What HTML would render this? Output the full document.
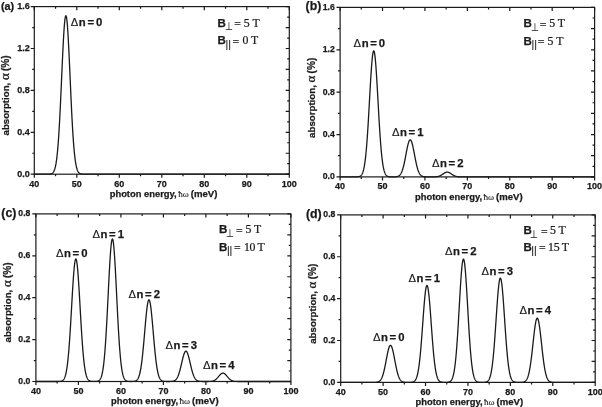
<!DOCTYPE html>
<html><head><meta charset="utf-8"><title>absorption</title>
<style>html,body{margin:0;padding:0;background:#fff}svg{display:block}</style>
</head><body>
<svg width="602" height="407" viewBox="0 0 602 407">
<rect width="602" height="407" fill="#fff"/>
<g stroke="#1a1a1a" stroke-width="1.2" fill="none">
<rect x="34.30" y="6.60" width="255.00" height="167.60"/>
<path d="M34.30 174.20v3.6 M34.30 6.60v3.6 M55.55 174.20v2.1 M55.55 6.60v2.1 M76.80 174.20v3.6 M76.80 6.60v3.6 M98.05 174.20v2.1 M98.05 6.60v2.1 M119.30 174.20v3.6 M119.30 6.60v3.6 M140.55 174.20v2.1 M140.55 6.60v2.1 M161.80 174.20v3.6 M161.80 6.60v3.6 M183.05 174.20v2.1 M183.05 6.60v2.1 M204.30 174.20v3.6 M204.30 6.60v3.6 M225.55 174.20v2.1 M225.55 6.60v2.1 M246.80 174.20v3.6 M246.80 6.60v3.6 M268.05 174.20v2.1 M268.05 6.60v2.1 M289.30 174.20v3.6 M289.30 6.60v3.6 M34.30 174.20h-3.6 M34.30 153.25h-2.1 M34.30 132.30h-3.6 M34.30 111.35h-2.1 M34.30 90.40h-3.6 M34.30 69.45h-2.1 M34.30 48.50h-3.6 M34.30 27.55h-2.1 M34.30 6.60h-3.6 M289.30 174.20h-3.6 M289.30 163.72h-2.1 M289.30 153.25h-3.6 M289.30 142.77h-2.1 M289.30 132.30h-3.6 M289.30 121.82h-2.1 M289.30 111.35h-3.6 M289.30 100.87h-2.1 M289.30 90.40h-3.6 M289.30 79.92h-2.1 M289.30 69.45h-3.6 M289.30 58.97h-2.1 M289.30 48.50h-3.6 M289.30 38.03h-2.1 M289.30 27.55h-3.6 M289.30 17.07h-2.1 M289.30 6.60h-3.6"/>
<polyline points="34.30,174.20 34.51,174.20 34.73,174.20 34.94,174.20 35.15,174.20 35.36,174.20 35.57,174.20 35.79,174.20 36.00,174.20 36.21,174.20 36.42,174.20 36.64,174.20 36.85,174.20 37.06,174.20 37.28,174.20 37.49,174.20 37.70,174.20 37.91,174.20 38.12,174.20 38.34,174.20 38.55,174.20 38.76,174.20 38.98,174.20 39.19,174.20 39.40,174.20 39.61,174.20 39.82,174.20 40.04,174.20 40.25,174.20 40.46,174.20 40.67,174.20 40.89,174.20 41.10,174.20 41.31,174.20 41.53,174.20 41.74,174.20 41.95,174.20 42.16,174.20 42.37,174.20 42.59,174.20 42.80,174.20 43.01,174.20 43.23,174.20 43.44,174.20 43.65,174.20 43.86,174.20 44.07,174.20 44.29,174.20 44.50,174.20 44.71,174.20 44.92,174.20 45.14,174.20 45.35,174.20 45.56,174.20 45.78,174.20 45.99,174.20 46.20,174.20 46.41,174.20 46.62,174.19 46.84,174.19 47.05,174.19 47.26,174.19 47.48,174.19 47.69,174.18 47.90,174.18 48.11,174.17 48.32,174.17 48.54,174.16 48.75,174.15 48.96,174.14 49.17,174.13 49.39,174.11 49.60,174.10 49.81,174.07 50.03,174.05 50.24,174.02 50.45,173.98 50.66,173.94 50.87,173.89 51.09,173.83 51.30,173.76 51.51,173.68 51.73,173.58 51.94,173.47 52.15,173.34 52.36,173.19 52.57,173.02 52.79,172.82 53.00,172.59 53.21,172.33 53.42,172.03 53.64,171.69 53.85,171.31 54.06,170.87 54.28,170.38 54.49,169.83 54.70,169.21 54.91,168.52 55.12,167.74 55.34,166.88 55.55,165.93 55.76,164.87 55.98,163.70 56.19,162.42 56.40,161.01 56.61,159.48 56.82,157.80 57.04,155.98 57.25,154.01 57.46,151.88 57.67,149.59 57.89,147.13 58.10,144.50 58.31,141.69 58.53,138.71 58.74,135.55 58.95,132.22 59.16,128.71 59.37,125.03 59.59,121.19 59.80,117.19 60.01,113.04 60.23,108.75 60.44,104.34 60.65,99.82 60.86,95.20 61.07,90.50 61.29,85.75 61.50,80.96 61.71,76.15 61.92,71.36 62.14,66.59 62.35,61.89 62.56,57.28 62.78,52.78 62.99,48.43 63.20,44.24 63.41,40.25 63.62,36.48 63.84,32.96 64.05,29.71 64.26,26.75 64.47,24.11 64.69,21.81 64.90,19.85 65.11,18.26 65.32,17.05 65.54,16.22 65.75,15.78 65.96,15.74 66.17,16.10 66.39,16.85 66.60,17.99 66.81,19.50 67.03,21.39 67.24,23.62 67.45,26.20 67.66,29.09 67.88,32.29 68.09,35.76 68.30,39.48 68.51,43.43 68.72,47.58 68.94,51.90 69.15,56.37 69.36,60.96 69.57,65.65 69.79,70.40 70.00,75.19 70.21,80.00 70.42,84.79 70.64,89.55 70.85,94.26 71.06,98.90 71.28,103.45 71.49,107.88 71.70,112.19 71.91,116.37 72.12,120.40 72.34,124.28 72.55,127.99 72.76,131.53 72.97,134.90 73.19,138.09 73.40,141.11 73.61,143.95 73.82,146.62 74.04,149.11 74.25,151.44 74.46,153.60 74.67,155.60 74.89,157.45 75.10,159.15 75.31,160.72 75.53,162.15 75.74,163.45 75.95,164.64 76.16,165.72 76.38,166.70 76.59,167.58 76.80,168.37 77.01,169.08 77.22,169.71 77.44,170.28 77.65,170.78 77.86,171.23 78.07,171.62 78.29,171.97 78.50,172.27 78.71,172.54 78.92,172.78 79.14,172.98 79.35,173.16 79.56,173.31 79.78,173.44 79.99,173.56 80.20,173.66 80.41,173.74 80.62,173.82 80.84,173.88 81.05,173.93 81.26,173.97 81.47,174.01 81.69,174.04 81.90,174.07 82.11,174.09 82.32,174.11 82.54,174.13 82.75,174.14 82.96,174.15 83.17,174.16 83.39,174.17 83.60,174.17 83.81,174.18 84.03,174.18 84.24,174.19 84.45,174.19 84.66,174.19 84.88,174.19 85.09,174.19 85.30,174.20 85.51,174.20 85.72,174.20 85.94,174.20 86.15,174.20 86.36,174.20 86.57,174.20 86.79,174.20 87.00,174.20 87.21,174.20 87.42,174.20 87.64,174.20 87.85,174.20 88.06,174.20 88.28,174.20 88.49,174.20 88.70,174.20 88.91,174.20 89.12,174.20 89.34,174.20 89.55,174.20 89.76,174.20 89.97,174.20 90.19,174.20 90.40,174.20 90.61,174.20 90.82,174.20 91.04,174.20 91.25,174.20 91.46,174.20 91.67,174.20 91.89,174.20 92.10,174.20 92.31,174.20 92.53,174.20 92.74,174.20 92.95,174.20 93.16,174.20 93.38,174.20 93.59,174.20 93.80,174.20 94.01,174.20 94.22,174.20 94.44,174.20 94.65,174.20 94.86,174.20 95.07,174.20 95.29,174.20 95.50,174.20 95.71,174.20 95.92,174.20 96.14,174.20 96.35,174.20 96.56,174.20 96.78,174.20 96.99,174.20 97.20,174.20 97.41,174.20 97.62,174.20 97.84,174.20 98.05,174.20 98.26,174.20 98.48,174.20 98.69,174.20 98.90,174.20 99.11,174.20 99.32,174.20 99.54,174.20 99.75,174.20 99.96,174.20 100.17,174.20 100.39,174.20 100.60,174.20 100.81,174.20 101.03,174.20 101.24,174.20 101.45,174.20 101.66,174.20 101.87,174.20 102.09,174.20 102.30,174.20 102.51,174.20 102.73,174.20 102.94,174.20 103.15,174.20 103.36,174.20 103.57,174.20 103.79,174.20 104.00,174.20 104.21,174.20 104.42,174.20 104.64,174.20 104.85,174.20 105.06,174.20 105.28,174.20 105.49,174.20 105.70,174.20 105.91,174.20 106.12,174.20 106.34,174.20 106.55,174.20 106.76,174.20 106.98,174.20 107.19,174.20 107.40,174.20 107.61,174.20 107.82,174.20 108.04,174.20 108.25,174.20 108.46,174.20 108.67,174.20 108.89,174.20 109.10,174.20 109.31,174.20 109.53,174.20 109.74,174.20 109.95,174.20 110.16,174.20 110.37,174.20 110.59,174.20 110.80,174.20 111.01,174.20 111.23,174.20 111.44,174.20 111.65,174.20 111.86,174.20 112.07,174.20 112.29,174.20 112.50,174.20 112.71,174.20 112.92,174.20 113.14,174.20 113.35,174.20 113.56,174.20 113.78,174.20 113.99,174.20 114.20,174.20 114.41,174.20 114.62,174.20 114.84,174.20 115.05,174.20 115.26,174.20 115.48,174.20 115.69,174.20 115.90,174.20 116.11,174.20 116.32,174.20 116.54,174.20 116.75,174.20 116.96,174.20 117.17,174.20 117.39,174.20 117.60,174.20 117.81,174.20 118.03,174.20 118.24,174.20 118.45,174.20 118.66,174.20 118.87,174.20 119.09,174.20 119.30,174.20 119.51,174.20 119.73,174.20 119.94,174.20 120.15,174.20 120.36,174.20 120.57,174.20 120.79,174.20 121.00,174.20 121.21,174.20 121.42,174.20 121.64,174.20 121.85,174.20 122.06,174.20 122.28,174.20 122.49,174.20 122.70,174.20 122.91,174.20 123.12,174.20 123.34,174.20 123.55,174.20 123.76,174.20 123.98,174.20 124.19,174.20 124.40,174.20 124.61,174.20 124.82,174.20 125.04,174.20 125.25,174.20 125.46,174.20 125.67,174.20 125.89,174.20 126.10,174.20 126.31,174.20 126.53,174.20 126.74,174.20 126.95,174.20 127.16,174.20 127.37,174.20 127.59,174.20 127.80,174.20 128.01,174.20 128.23,174.20 128.44,174.20 128.65,174.20 128.86,174.20 129.07,174.20 129.29,174.20 129.50,174.20 129.71,174.20 129.93,174.20 130.14,174.20 130.35,174.20 130.56,174.20 130.78,174.20 130.99,174.20 131.20,174.20 131.41,174.20 131.62,174.20 131.84,174.20 132.05,174.20 132.26,174.20 132.48,174.20 132.69,174.20 132.90,174.20 133.11,174.20 133.32,174.20 133.54,174.20 133.75,174.20 133.96,174.20 134.18,174.20 134.39,174.20 134.60,174.20 134.81,174.20 135.03,174.20 135.24,174.20 135.45,174.20 135.66,174.20 135.88,174.20 136.09,174.20 136.30,174.20 136.51,174.20 136.72,174.20 136.94,174.20 137.15,174.20 137.36,174.20 137.57,174.20 137.79,174.20 138.00,174.20 138.21,174.20 138.43,174.20 138.64,174.20 138.85,174.20 139.06,174.20 139.28,174.20 139.49,174.20 139.70,174.20 139.91,174.20 140.12,174.20 140.34,174.20 140.55,174.20 140.76,174.20 140.97,174.20 141.19,174.20 141.40,174.20 141.61,174.20 141.82,174.20 142.04,174.20 142.25,174.20 142.46,174.20 142.68,174.20 142.89,174.20 143.10,174.20 143.31,174.20 143.53,174.20 143.74,174.20 143.95,174.20 144.16,174.20 144.38,174.20 144.59,174.20 144.80,174.20 145.01,174.20 145.22,174.20 145.44,174.20 145.65,174.20 145.86,174.20 146.07,174.20 146.29,174.20 146.50,174.20 146.71,174.20 146.93,174.20 147.14,174.20 147.35,174.20 147.56,174.20 147.78,174.20 147.99,174.20 148.20,174.20 148.41,174.20 148.62,174.20 148.84,174.20 149.05,174.20 149.26,174.20 149.47,174.20 149.69,174.20 149.90,174.20 150.11,174.20 150.32,174.20 150.54,174.20 150.75,174.20 150.96,174.20 151.18,174.20 151.39,174.20 151.60,174.20 151.81,174.20 152.03,174.20 152.24,174.20 152.45,174.20 152.66,174.20 152.88,174.20 153.09,174.20 153.30,174.20 153.51,174.20 153.72,174.20 153.94,174.20 154.15,174.20 154.36,174.20 154.57,174.20 154.79,174.20 155.00,174.20 155.21,174.20 155.43,174.20 155.64,174.20 155.85,174.20 156.06,174.20 156.28,174.20 156.49,174.20 156.70,174.20 156.91,174.20 157.12,174.20 157.34,174.20 157.55,174.20 157.76,174.20 157.97,174.20 158.19,174.20 158.40,174.20 158.61,174.20 158.82,174.20 159.04,174.20 159.25,174.20 159.46,174.20 159.68,174.20 159.89,174.20 160.10,174.20 160.31,174.20 160.53,174.20 160.74,174.20 160.95,174.20 161.16,174.20 161.38,174.20 161.59,174.20 161.80,174.20 162.01,174.20 162.22,174.20 162.44,174.20 162.65,174.20 162.86,174.20 163.07,174.20 163.29,174.20 163.50,174.20 163.71,174.20 163.93,174.20 164.14,174.20 164.35,174.20 164.56,174.20 164.78,174.20 164.99,174.20 165.20,174.20 165.41,174.20 165.62,174.20 165.84,174.20 166.05,174.20 166.26,174.20 166.47,174.20 166.69,174.20 166.90,174.20 167.11,174.20 167.32,174.20 167.54,174.20 167.75,174.20 167.96,174.20 168.18,174.20 168.39,174.20 168.60,174.20 168.81,174.20 169.03,174.20 169.24,174.20 169.45,174.20 169.66,174.20 169.88,174.20 170.09,174.20 170.30,174.20 170.51,174.20 170.72,174.20 170.94,174.20 171.15,174.20 171.36,174.20 171.57,174.20 171.79,174.20 172.00,174.20 172.21,174.20 172.43,174.20 172.64,174.20 172.85,174.20 173.06,174.20 173.28,174.20 173.49,174.20 173.70,174.20 173.91,174.20 174.12,174.20 174.34,174.20 174.55,174.20 174.76,174.20 174.97,174.20 175.19,174.20 175.40,174.20 175.61,174.20 175.82,174.20 176.04,174.20 176.25,174.20 176.46,174.20 176.68,174.20 176.89,174.20 177.10,174.20 177.31,174.20 177.53,174.20 177.74,174.20 177.95,174.20 178.16,174.20 178.38,174.20 178.59,174.20 178.80,174.20 179.01,174.20 179.22,174.20 179.44,174.20 179.65,174.20 179.86,174.20 180.07,174.20 180.29,174.20 180.50,174.20 180.71,174.20 180.93,174.20 181.14,174.20 181.35,174.20 181.56,174.20 181.78,174.20 181.99,174.20 182.20,174.20 182.41,174.20 182.62,174.20 182.84,174.20 183.05,174.20 183.26,174.20 183.47,174.20 183.69,174.20 183.90,174.20 184.11,174.20 184.32,174.20 184.54,174.20 184.75,174.20 184.96,174.20 185.18,174.20 185.39,174.20 185.60,174.20 185.81,174.20 186.03,174.20 186.24,174.20 186.45,174.20 186.66,174.20 186.88,174.20 187.09,174.20 187.30,174.20 187.51,174.20 187.72,174.20 187.94,174.20 188.15,174.20 188.36,174.20 188.57,174.20 188.79,174.20 189.00,174.20 189.21,174.20 189.43,174.20 189.64,174.20 189.85,174.20 190.06,174.20 190.28,174.20 190.49,174.20 190.70,174.20 190.91,174.20 191.12,174.20 191.34,174.20 191.55,174.20 191.76,174.20 191.97,174.20 192.19,174.20 192.40,174.20 192.61,174.20 192.82,174.20 193.04,174.20 193.25,174.20 193.46,174.20 193.68,174.20 193.89,174.20 194.10,174.20 194.31,174.20 194.53,174.20 194.74,174.20 194.95,174.20 195.16,174.20 195.38,174.20 195.59,174.20 195.80,174.20 196.01,174.20 196.22,174.20 196.44,174.20 196.65,174.20 196.86,174.20 197.07,174.20 197.29,174.20 197.50,174.20 197.71,174.20 197.93,174.20 198.14,174.20 198.35,174.20 198.56,174.20 198.78,174.20 198.99,174.20 199.20,174.20 199.41,174.20 199.62,174.20 199.84,174.20 200.05,174.20 200.26,174.20 200.47,174.20 200.69,174.20 200.90,174.20 201.11,174.20 201.32,174.20 201.54,174.20 201.75,174.20 201.96,174.20 202.18,174.20 202.39,174.20 202.60,174.20 202.81,174.20 203.03,174.20 203.24,174.20 203.45,174.20 203.66,174.20 203.88,174.20 204.09,174.20 204.30,174.20 204.51,174.20 204.72,174.20 204.94,174.20 205.15,174.20 205.36,174.20 205.57,174.20 205.79,174.20 206.00,174.20 206.21,174.20 206.43,174.20 206.64,174.20 206.85,174.20 207.06,174.20 207.28,174.20 207.49,174.20 207.70,174.20 207.91,174.20 208.12,174.20 208.34,174.20 208.55,174.20 208.76,174.20 208.97,174.20 209.19,174.20 209.40,174.20 209.61,174.20 209.82,174.20 210.04,174.20 210.25,174.20 210.46,174.20 210.68,174.20 210.89,174.20 211.10,174.20 211.31,174.20 211.53,174.20 211.74,174.20 211.95,174.20 212.16,174.20 212.38,174.20 212.59,174.20 212.80,174.20 213.01,174.20 213.22,174.20 213.44,174.20 213.65,174.20 213.86,174.20 214.07,174.20 214.29,174.20 214.50,174.20 214.71,174.20 214.93,174.20 215.14,174.20 215.35,174.20 215.56,174.20 215.78,174.20 215.99,174.20 216.20,174.20 216.41,174.20 216.62,174.20 216.84,174.20 217.05,174.20 217.26,174.20 217.47,174.20 217.69,174.20 217.90,174.20 218.11,174.20 218.32,174.20 218.54,174.20 218.75,174.20 218.96,174.20 219.18,174.20 219.39,174.20 219.60,174.20 219.81,174.20 220.03,174.20 220.24,174.20 220.45,174.20 220.66,174.20 220.88,174.20 221.09,174.20 221.30,174.20 221.51,174.20 221.72,174.20 221.94,174.20 222.15,174.20 222.36,174.20 222.57,174.20 222.79,174.20 223.00,174.20 223.21,174.20 223.43,174.20 223.64,174.20 223.85,174.20 224.06,174.20 224.28,174.20 224.49,174.20 224.70,174.20 224.91,174.20 225.12,174.20 225.34,174.20 225.55,174.20 225.76,174.20 225.97,174.20 226.19,174.20 226.40,174.20 226.61,174.20 226.82,174.20 227.04,174.20 227.25,174.20 227.46,174.20 227.68,174.20 227.89,174.20 228.10,174.20 228.31,174.20 228.53,174.20 228.74,174.20 228.95,174.20 229.16,174.20 229.38,174.20 229.59,174.20 229.80,174.20 230.01,174.20 230.22,174.20 230.44,174.20 230.65,174.20 230.86,174.20 231.07,174.20 231.29,174.20 231.50,174.20 231.71,174.20 231.93,174.20 232.14,174.20 232.35,174.20 232.56,174.20 232.78,174.20 232.99,174.20 233.20,174.20 233.41,174.20 233.62,174.20 233.84,174.20 234.05,174.20 234.26,174.20 234.47,174.20 234.69,174.20 234.90,174.20 235.11,174.20 235.32,174.20 235.54,174.20 235.75,174.20 235.96,174.20 236.18,174.20 236.39,174.20 236.60,174.20 236.81,174.20 237.03,174.20 237.24,174.20 237.45,174.20 237.66,174.20 237.88,174.20 238.09,174.20 238.30,174.20 238.51,174.20 238.72,174.20 238.94,174.20 239.15,174.20 239.36,174.20 239.57,174.20 239.79,174.20 240.00,174.20 240.21,174.20 240.43,174.20 240.64,174.20 240.85,174.20 241.06,174.20 241.28,174.20 241.49,174.20 241.70,174.20 241.91,174.20 242.12,174.20 242.34,174.20 242.55,174.20 242.76,174.20 242.97,174.20 243.19,174.20 243.40,174.20 243.61,174.20 243.82,174.20 244.04,174.20 244.25,174.20 244.46,174.20 244.68,174.20 244.89,174.20 245.10,174.20 245.31,174.20 245.53,174.20 245.74,174.20 245.95,174.20 246.16,174.20 246.38,174.20 246.59,174.20 246.80,174.20 247.01,174.20 247.22,174.20 247.44,174.20 247.65,174.20 247.86,174.20 248.07,174.20 248.29,174.20 248.50,174.20 248.71,174.20 248.93,174.20 249.14,174.20 249.35,174.20 249.56,174.20 249.78,174.20 249.99,174.20 250.20,174.20 250.41,174.20 250.62,174.20 250.84,174.20 251.05,174.20 251.26,174.20 251.47,174.20 251.69,174.20 251.90,174.20 252.11,174.20 252.32,174.20 252.54,174.20 252.75,174.20 252.96,174.20 253.18,174.20 253.39,174.20 253.60,174.20 253.81,174.20 254.03,174.20 254.24,174.20 254.45,174.20 254.66,174.20 254.88,174.20 255.09,174.20 255.30,174.20 255.51,174.20 255.72,174.20 255.94,174.20 256.15,174.20 256.36,174.20 256.57,174.20 256.79,174.20 257.00,174.20 257.21,174.20 257.43,174.20 257.64,174.20 257.85,174.20 258.06,174.20 258.28,174.20 258.49,174.20 258.70,174.20 258.91,174.20 259.12,174.20 259.34,174.20 259.55,174.20 259.76,174.20 259.97,174.20 260.19,174.20 260.40,174.20 260.61,174.20 260.82,174.20 261.04,174.20 261.25,174.20 261.46,174.20 261.68,174.20 261.89,174.20 262.10,174.20 262.31,174.20 262.53,174.20 262.74,174.20 262.95,174.20 263.16,174.20 263.38,174.20 263.59,174.20 263.80,174.20 264.01,174.20 264.22,174.20 264.44,174.20 264.65,174.20 264.86,174.20 265.07,174.20 265.29,174.20 265.50,174.20 265.71,174.20 265.93,174.20 266.14,174.20 266.35,174.20 266.56,174.20 266.78,174.20 266.99,174.20 267.20,174.20 267.41,174.20 267.62,174.20 267.84,174.20 268.05,174.20 268.26,174.20 268.47,174.20 268.69,174.20 268.90,174.20 269.11,174.20 269.32,174.20 269.54,174.20 269.75,174.20 269.96,174.20 270.18,174.20 270.39,174.20 270.60,174.20 270.81,174.20 271.03,174.20 271.24,174.20 271.45,174.20 271.66,174.20 271.88,174.20 272.09,174.20 272.30,174.20 272.51,174.20 272.72,174.20 272.94,174.20 273.15,174.20 273.36,174.20 273.57,174.20 273.79,174.20 274.00,174.20 274.21,174.20 274.43,174.20 274.64,174.20 274.85,174.20 275.06,174.20 275.28,174.20 275.49,174.20 275.70,174.20 275.91,174.20 276.12,174.20 276.34,174.20 276.55,174.20 276.76,174.20 276.97,174.20 277.19,174.20 277.40,174.20 277.61,174.20 277.82,174.20 278.04,174.20 278.25,174.20 278.46,174.20 278.68,174.20 278.89,174.20 279.10,174.20 279.31,174.20 279.53,174.20 279.74,174.20 279.95,174.20 280.16,174.20 280.38,174.20 280.59,174.20 280.80,174.20 281.01,174.20 281.22,174.20 281.44,174.20 281.65,174.20 281.86,174.20 282.07,174.20 282.29,174.20 282.50,174.20 282.71,174.20 282.93,174.20 283.14,174.20 283.35,174.20 283.56,174.20 283.78,174.20 283.99,174.20 284.20,174.20 284.41,174.20 284.62,174.20 284.84,174.20 285.05,174.20 285.26,174.20 285.47,174.20 285.69,174.20 285.90,174.20 286.11,174.20 286.32,174.20 286.54,174.20 286.75,174.20 286.96,174.20 287.18,174.20 287.39,174.20 287.60,174.20 287.81,174.20 288.03,174.20 288.24,174.20 288.45,174.20 288.66,174.20 288.88,174.20 289.09,174.20 289.30,174.20" stroke-width="1.3" stroke-linejoin="round"/>
</g>
<g font-family="Liberation Sans, Arial, sans-serif" font-weight="bold" fill="#1a1a1a" stroke="#1a1a1a" stroke-width="0.25">
<g font-size="9.0" text-anchor="middle">
<text x="34.30" y="187.40">40</text>
<text x="76.80" y="187.40">50</text>
<text x="119.30" y="187.40">60</text>
<text x="161.80" y="187.40">70</text>
<text x="204.30" y="187.40">80</text>
<text x="246.80" y="187.40">90</text>
<text x="289.30" y="187.40">100</text>
</g>
<g font-size="9.0" text-anchor="end">
<text x="29.70" y="177.00">0.0</text>
<text x="29.70" y="135.10">0.4</text>
<text x="29.70" y="93.20">0.8</text>
<text x="29.70" y="51.30">1.2</text>
<text x="29.70" y="9.40">1.6</text>
</g>
<text x="1" y="9.8" font-size="10.8">(a)</text>
<g transform="translate(9.2,135.5) rotate(-90)">
<text x="0" y="0" font-size="9.7">absorption,</text>
<text x="55.4" y="0" font-size="13.0" font-family="Liberation Serif, serif" font-weight="normal" stroke-width="0.3">α</text>
<text x="64.5" y="-0.4" font-size="10.15">(%)</text>
</g>
<text x="109.7" y="197.3" font-size="9.4">photon energy,</text>
<text x="178.2" y="197.3" font-size="9.2" font-family="Liberation Serif, serif" font-weight="normal" stroke-width="0.1" fill="#222">ħω</text>
<text x="190.7" y="197.3" font-size="9.6">(meV)</text>
<text y="26.2" font-size="11.3"><tspan x="70.80" font-weight="normal" stroke-width="0.15">Δ</tspan><tspan x="78.85 87.40 96.00">n=0</tspan></text>
<text x="217.6" y="26.8" font-size="11.5">B</text>
<text x="224.60" y="30.30" font-size="10.8" textLength="8.2" lengthAdjust="spacingAndGlyphs" font-weight="normal" stroke-width="0.1">⊥</text>
<text x="234.30" y="28.30" font-family="Liberation Serif, serif" font-weight="normal" font-size="11.8" stroke-width="0.22">=</text>
<text x="243.80" y="26.8" font-family="Liberation Serif, serif" font-weight="normal" font-size="11.8" stroke-width="0.22">5 T</text>
<text x="217.6" y="44.3" font-size="11.5">B</text>
<text x="225.50" y="47.60" font-size="10.5" font-weight="normal" stroke-width="0.1">||</text>
<text x="232.50" y="45.80" font-family="Liberation Serif, serif" font-weight="normal" font-size="11.8" stroke-width="0.22">=</text>
<text x="242.40" y="44.3" font-family="Liberation Serif, serif" font-weight="normal" font-size="11.8" stroke-width="0.22">0 T</text>
</g>
<g stroke="#1a1a1a" stroke-width="1.2" fill="none">
<rect x="340.10" y="7.40" width="254.50" height="169.50"/>
<path d="M340.10 176.90v3.6 M340.10 7.40v3.6 M361.31 176.90v2.1 M361.31 7.40v2.1 M382.52 176.90v3.6 M382.52 7.40v3.6 M403.73 176.90v2.1 M403.73 7.40v2.1 M424.93 176.90v3.6 M424.93 7.40v3.6 M446.14 176.90v2.1 M446.14 7.40v2.1 M467.35 176.90v3.6 M467.35 7.40v3.6 M488.56 176.90v2.1 M488.56 7.40v2.1 M509.77 176.90v3.6 M509.77 7.40v3.6 M530.98 176.90v2.1 M530.98 7.40v2.1 M552.18 176.90v3.6 M552.18 7.40v3.6 M573.39 176.90v2.1 M573.39 7.40v2.1 M594.60 176.90v3.6 M594.60 7.40v3.6 M340.10 176.90h-3.6 M340.10 155.71h-2.1 M340.10 134.53h-3.6 M340.10 113.34h-2.1 M340.10 92.15h-3.6 M340.10 70.96h-2.1 M340.10 49.78h-3.6 M340.10 28.59h-2.1 M340.10 7.40h-3.6 M594.60 176.90h-3.6 M594.60 166.31h-2.1 M594.60 155.71h-3.6 M594.60 145.12h-2.1 M594.60 134.53h-3.6 M594.60 123.93h-2.1 M594.60 113.34h-3.6 M594.60 102.74h-2.1 M594.60 92.15h-3.6 M594.60 81.56h-2.1 M594.60 70.96h-3.6 M594.60 60.37h-2.1 M594.60 49.78h-3.6 M594.60 39.18h-2.1 M594.60 28.59h-3.6 M594.60 17.99h-2.1 M594.60 7.40h-3.6"/>
<polyline points="340.10,176.90 340.31,176.90 340.52,176.90 340.74,176.90 340.95,176.90 341.16,176.90 341.37,176.90 341.58,176.90 341.80,176.90 342.01,176.90 342.22,176.90 342.43,176.90 342.65,176.90 342.86,176.90 343.07,176.90 343.28,176.90 343.49,176.90 343.71,176.90 343.92,176.90 344.13,176.90 344.34,176.90 344.55,176.90 344.77,176.90 344.98,176.90 345.19,176.90 345.40,176.90 345.61,176.90 345.83,176.90 346.04,176.90 346.25,176.90 346.46,176.90 346.67,176.90 346.89,176.90 347.10,176.90 347.31,176.90 347.52,176.90 347.74,176.90 347.95,176.90 348.16,176.90 348.37,176.90 348.58,176.90 348.80,176.90 349.01,176.90 349.22,176.90 349.43,176.90 349.64,176.90 349.86,176.90 350.07,176.90 350.28,176.90 350.49,176.90 350.70,176.90 350.92,176.90 351.13,176.90 351.34,176.90 351.55,176.90 351.76,176.90 351.98,176.90 352.19,176.90 352.40,176.90 352.61,176.90 352.83,176.90 353.04,176.90 353.25,176.90 353.46,176.90 353.67,176.90 353.89,176.90 354.10,176.90 354.31,176.90 354.52,176.90 354.73,176.89 354.95,176.89 355.16,176.89 355.37,176.89 355.58,176.89 355.79,176.88 356.01,176.88 356.22,176.88 356.43,176.87 356.64,176.86 356.85,176.85 357.07,176.84 357.28,176.83 357.49,176.82 357.70,176.80 357.92,176.78 358.13,176.76 358.34,176.73 358.55,176.69 358.76,176.65 358.98,176.60 359.19,176.55 359.40,176.48 359.61,176.41 359.82,176.32 360.04,176.22 360.25,176.10 360.46,175.96 360.67,175.80 360.88,175.62 361.10,175.41 361.31,175.18 361.52,174.91 361.73,174.60 361.94,174.26 362.16,173.86 362.37,173.42 362.58,172.93 362.79,172.38 363.00,171.76 363.22,171.08 363.43,170.32 363.64,169.48 363.85,168.55 364.07,167.53 364.28,166.41 364.49,165.19 364.70,163.86 364.91,162.41 365.13,160.84 365.34,159.15 365.55,157.32 365.76,155.37 365.97,153.27 366.19,151.04 366.40,148.67 366.61,146.16 366.82,143.51 367.03,140.72 367.25,137.79 367.46,134.73 367.67,131.55 367.88,128.25 368.10,124.84 368.31,121.33 368.52,117.73 368.73,114.06 368.94,110.32 369.16,106.54 369.37,102.73 369.58,98.91 369.79,95.09 370.00,91.31 370.22,87.57 370.43,83.90 370.64,80.32 370.85,76.86 371.06,73.53 371.28,70.35 371.49,67.35 371.70,64.55 371.91,61.97 372.12,59.62 372.34,57.52 372.55,55.68 372.76,54.13 372.97,52.86 373.19,51.90 373.40,51.24 373.61,50.89 373.82,50.86 374.03,51.14 374.25,51.74 374.46,52.64 374.67,53.85 374.88,55.35 375.09,57.13 375.31,59.17 375.52,61.48 375.73,64.02 375.94,66.78 376.15,69.74 376.37,72.88 376.58,76.18 376.79,79.62 377.00,83.18 377.21,86.83 377.43,90.55 377.64,94.33 377.85,98.14 378.06,101.97 378.28,105.78 378.49,109.57 378.70,113.32 378.91,117.00 379.12,120.62 379.34,124.15 379.55,127.58 379.76,130.90 379.97,134.11 380.18,137.19 380.40,140.14 380.61,142.96 380.82,145.64 381.03,148.18 381.24,150.58 381.46,152.84 381.67,154.96 381.88,156.94 382.09,158.79 382.30,160.51 382.52,162.10 382.73,163.58 382.94,164.93 383.15,166.17 383.37,167.31 383.58,168.35 383.79,169.30 384.00,170.16 384.21,170.93 384.43,171.63 384.64,172.26 384.85,172.83 385.06,173.33 385.27,173.78 385.49,174.18 385.70,174.54 385.91,174.85 386.12,175.13 386.33,175.37 386.55,175.58 386.76,175.77 386.97,175.93 387.18,176.07 387.39,176.19 387.61,176.30 387.82,176.39 388.03,176.47 388.24,176.54 388.46,176.59 388.67,176.64 388.88,176.68 389.09,176.72 389.30,176.75 389.52,176.78 389.73,176.80 389.94,176.81 390.15,176.83 390.36,176.84 390.58,176.85 390.79,176.86 391.00,176.87 391.21,176.87 391.42,176.88 391.64,176.88 391.85,176.88 392.06,176.88 392.27,176.89 392.48,176.89 392.70,176.89 392.91,176.89 393.12,176.89 393.33,176.88 393.55,176.88 393.76,176.88 393.97,176.87 394.18,176.87 394.39,176.86 394.61,176.86 394.82,176.85 395.03,176.84 395.24,176.83 395.45,176.81 395.67,176.80 395.88,176.78 396.09,176.75 396.30,176.73 396.51,176.70 396.73,176.66 396.94,176.62 397.15,176.58 397.36,176.52 397.57,176.46 397.79,176.39 398.00,176.31 398.21,176.22 398.42,176.12 398.63,176.01 398.85,175.88 399.06,175.73 399.27,175.57 399.48,175.39 399.70,175.19 399.91,174.96 400.12,174.72 400.33,174.44 400.54,174.14 400.76,173.81 400.97,173.46 401.18,173.06 401.39,172.64 401.60,172.18 401.82,171.68 402.03,171.14 402.24,170.57 402.45,169.95 402.66,169.29 402.88,168.60 403.09,167.86 403.30,167.08 403.51,166.26 403.73,165.40 403.94,164.50 404.15,163.56 404.36,162.59 404.57,161.59 404.79,160.56 405.00,159.50 405.21,158.42 405.42,157.32 405.63,156.21 405.85,155.09 406.06,153.96 406.27,152.84 406.48,151.73 406.69,150.63 406.91,149.55 407.12,148.49 407.33,147.48 407.54,146.50 407.75,145.56 407.97,144.68 408.18,143.86 408.39,143.10 408.60,142.40 408.82,141.79 409.03,141.25 409.24,140.79 409.45,140.42 409.66,140.13 409.88,139.94 410.09,139.84 410.30,139.83 410.51,139.91 410.72,140.09 410.94,140.35 411.15,140.71 411.36,141.15 411.57,141.67 411.78,142.27 412.00,142.95 412.21,143.70 412.42,144.51 412.63,145.38 412.84,146.31 413.06,147.28 413.27,148.29 413.48,149.33 413.69,150.41 413.91,151.50 414.12,152.62 414.33,153.74 414.54,154.86 414.75,155.98 414.97,157.10 415.18,158.20 415.39,159.28 415.60,160.35 415.81,161.38 416.03,162.39 416.24,163.37 416.45,164.31 416.66,165.22 416.87,166.09 417.09,166.92 417.30,167.71 417.51,168.45 417.72,169.16 417.93,169.82 418.15,170.45 418.36,171.03 418.57,171.57 418.78,172.08 419.00,172.55 419.21,172.98 419.42,173.38 419.63,173.75 419.84,174.08 420.06,174.39 420.27,174.66 420.48,174.92 420.69,175.14 420.90,175.35 421.12,175.54 421.33,175.70 421.54,175.85 421.75,175.98 421.96,176.10 422.18,176.20 422.39,176.30 422.60,176.38 422.81,176.45 423.02,176.51 423.24,176.57 423.45,176.61 423.66,176.66 423.87,176.69 424.09,176.72 424.30,176.75 424.51,176.77 424.72,176.79 424.93,176.81 425.15,176.82 425.36,176.84 425.57,176.85 425.78,176.86 425.99,176.86 426.21,176.87 426.42,176.87 426.63,176.88 426.84,176.88 427.05,176.89 427.27,176.89 427.48,176.89 427.69,176.89 427.90,176.89 428.11,176.89 428.33,176.90 428.54,176.90 428.75,176.90 428.96,176.90 429.18,176.90 429.39,176.90 429.60,176.90 429.81,176.90 430.02,176.90 430.24,176.90 430.45,176.90 430.66,176.90 430.87,176.90 431.08,176.90 431.30,176.90 431.51,176.89 431.72,176.89 431.93,176.89 432.14,176.89 432.36,176.89 432.57,176.89 432.78,176.89 432.99,176.88 433.20,176.88 433.42,176.88 433.63,176.87 433.84,176.87 434.05,176.86 434.27,176.85 434.48,176.85 434.69,176.84 434.90,176.83 435.11,176.82 435.33,176.81 435.54,176.79 435.75,176.78 435.96,176.76 436.17,176.74 436.39,176.72 436.60,176.69 436.81,176.66 437.02,176.63 437.23,176.60 437.45,176.56 437.66,176.52 437.87,176.48 438.08,176.43 438.29,176.37 438.51,176.32 438.72,176.25 438.93,176.19 439.14,176.12 439.36,176.04 439.57,175.96 439.78,175.87 439.99,175.78 440.20,175.68 440.42,175.57 440.63,175.47 440.84,175.35 441.05,175.23 441.26,175.11 441.48,174.98 441.69,174.85 441.90,174.72 442.11,174.58 442.32,174.44 442.54,174.30 442.75,174.15 442.96,174.01 443.17,173.86 443.38,173.72 443.60,173.58 443.81,173.44 444.02,173.30 444.23,173.17 444.44,173.04 444.66,172.92 444.87,172.80 445.08,172.69 445.29,172.59 445.51,172.50 445.72,172.42 445.93,172.34 446.14,172.28 446.35,172.23 446.57,172.19 446.78,172.16 446.99,172.14 447.20,172.13 447.41,172.14 447.63,172.16 447.84,172.19 448.05,172.23 448.26,172.28 448.47,172.34 448.69,172.42 448.90,172.50 449.11,172.59 449.32,172.69 449.53,172.80 449.75,172.92 449.96,173.04 450.17,173.17 450.38,173.30 450.60,173.44 450.81,173.58 451.02,173.72 451.23,173.86 451.44,174.01 451.66,174.15 451.87,174.30 452.08,174.44 452.29,174.58 452.50,174.72 452.72,174.85 452.93,174.98 453.14,175.11 453.35,175.23 453.56,175.35 453.78,175.47 453.99,175.57 454.20,175.68 454.41,175.78 454.62,175.87 454.84,175.96 455.05,176.04 455.26,176.12 455.47,176.19 455.69,176.25 455.90,176.32 456.11,176.37 456.32,176.43 456.53,176.48 456.75,176.52 456.96,176.56 457.17,176.60 457.38,176.63 457.59,176.66 457.81,176.69 458.02,176.72 458.23,176.74 458.44,176.76 458.65,176.78 458.87,176.79 459.08,176.81 459.29,176.82 459.50,176.83 459.72,176.84 459.93,176.85 460.14,176.85 460.35,176.86 460.56,176.87 460.78,176.87 460.99,176.88 461.20,176.88 461.41,176.88 461.62,176.89 461.84,176.89 462.05,176.89 462.26,176.89 462.47,176.89 462.68,176.89 462.90,176.89 463.11,176.90 463.32,176.90 463.53,176.90 463.74,176.90 463.96,176.90 464.17,176.90 464.38,176.90 464.59,176.90 464.81,176.90 465.02,176.90 465.23,176.90 465.44,176.90 465.65,176.90 465.87,176.90 466.08,176.90 466.29,176.90 466.50,176.90 466.71,176.90 466.93,176.90 467.14,176.90 467.35,176.90 467.56,176.90 467.77,176.90 467.99,176.90 468.20,176.90 468.41,176.90 468.62,176.90 468.83,176.90 469.05,176.90 469.26,176.90 469.47,176.90 469.68,176.90 469.89,176.90 470.11,176.90 470.32,176.90 470.53,176.90 470.74,176.90 470.96,176.90 471.17,176.90 471.38,176.90 471.59,176.90 471.80,176.90 472.02,176.90 472.23,176.90 472.44,176.90 472.65,176.90 472.86,176.90 473.08,176.90 473.29,176.90 473.50,176.90 473.71,176.90 473.92,176.90 474.14,176.90 474.35,176.90 474.56,176.90 474.77,176.90 474.99,176.90 475.20,176.90 475.41,176.90 475.62,176.90 475.83,176.90 476.05,176.90 476.26,176.90 476.47,176.90 476.68,176.90 476.89,176.90 477.11,176.90 477.32,176.90 477.53,176.90 477.74,176.90 477.95,176.90 478.17,176.90 478.38,176.90 478.59,176.90 478.80,176.90 479.01,176.90 479.23,176.90 479.44,176.90 479.65,176.90 479.86,176.90 480.08,176.90 480.29,176.90 480.50,176.90 480.71,176.90 480.92,176.90 481.14,176.90 481.35,176.90 481.56,176.90 481.77,176.90 481.98,176.90 482.20,176.90 482.41,176.90 482.62,176.90 482.83,176.90 483.04,176.90 483.26,176.90 483.47,176.90 483.68,176.90 483.89,176.90 484.10,176.90 484.32,176.90 484.53,176.90 484.74,176.90 484.95,176.90 485.17,176.90 485.38,176.90 485.59,176.90 485.80,176.90 486.01,176.90 486.23,176.90 486.44,176.90 486.65,176.90 486.86,176.90 487.07,176.90 487.29,176.90 487.50,176.90 487.71,176.90 487.92,176.90 488.13,176.90 488.35,176.90 488.56,176.90 488.77,176.90 488.98,176.90 489.19,176.90 489.41,176.90 489.62,176.90 489.83,176.90 490.04,176.90 490.25,176.90 490.47,176.90 490.68,176.90 490.89,176.90 491.10,176.90 491.32,176.90 491.53,176.90 491.74,176.90 491.95,176.90 492.16,176.90 492.38,176.90 492.59,176.90 492.80,176.90 493.01,176.90 493.22,176.90 493.44,176.90 493.65,176.90 493.86,176.90 494.07,176.90 494.28,176.90 494.50,176.90 494.71,176.90 494.92,176.90 495.13,176.90 495.34,176.90 495.56,176.90 495.77,176.90 495.98,176.90 496.19,176.90 496.41,176.90 496.62,176.90 496.83,176.90 497.04,176.90 497.25,176.90 497.47,176.90 497.68,176.90 497.89,176.90 498.10,176.90 498.31,176.90 498.53,176.90 498.74,176.90 498.95,176.90 499.16,176.90 499.37,176.90 499.59,176.90 499.80,176.90 500.01,176.90 500.22,176.90 500.44,176.90 500.65,176.90 500.86,176.90 501.07,176.90 501.28,176.90 501.50,176.90 501.71,176.90 501.92,176.90 502.13,176.90 502.34,176.90 502.56,176.90 502.77,176.90 502.98,176.90 503.19,176.90 503.40,176.90 503.62,176.90 503.83,176.90 504.04,176.90 504.25,176.90 504.46,176.90 504.68,176.90 504.89,176.90 505.10,176.90 505.31,176.90 505.52,176.90 505.74,176.90 505.95,176.90 506.16,176.90 506.37,176.90 506.59,176.90 506.80,176.90 507.01,176.90 507.22,176.90 507.43,176.90 507.65,176.90 507.86,176.90 508.07,176.90 508.28,176.90 508.49,176.90 508.71,176.90 508.92,176.90 509.13,176.90 509.34,176.90 509.55,176.90 509.77,176.90 509.98,176.90 510.19,176.90 510.40,176.90 510.62,176.90 510.83,176.90 511.04,176.90 511.25,176.90 511.46,176.90 511.68,176.90 511.89,176.90 512.10,176.90 512.31,176.90 512.52,176.90 512.74,176.90 512.95,176.90 513.16,176.90 513.37,176.90 513.58,176.90 513.80,176.90 514.01,176.90 514.22,176.90 514.43,176.90 514.64,176.90 514.86,176.90 515.07,176.90 515.28,176.90 515.49,176.90 515.71,176.90 515.92,176.90 516.13,176.90 516.34,176.90 516.55,176.90 516.77,176.90 516.98,176.90 517.19,176.90 517.40,176.90 517.61,176.90 517.83,176.90 518.04,176.90 518.25,176.90 518.46,176.90 518.67,176.90 518.89,176.90 519.10,176.90 519.31,176.90 519.52,176.90 519.73,176.90 519.95,176.90 520.16,176.90 520.37,176.90 520.58,176.90 520.79,176.90 521.01,176.90 521.22,176.90 521.43,176.90 521.64,176.90 521.86,176.90 522.07,176.90 522.28,176.90 522.49,176.90 522.70,176.90 522.92,176.90 523.13,176.90 523.34,176.90 523.55,176.90 523.76,176.90 523.98,176.90 524.19,176.90 524.40,176.90 524.61,176.90 524.82,176.90 525.04,176.90 525.25,176.90 525.46,176.90 525.67,176.90 525.88,176.90 526.10,176.90 526.31,176.90 526.52,176.90 526.73,176.90 526.95,176.90 527.16,176.90 527.37,176.90 527.58,176.90 527.79,176.90 528.01,176.90 528.22,176.90 528.43,176.90 528.64,176.90 528.85,176.90 529.07,176.90 529.28,176.90 529.49,176.90 529.70,176.90 529.91,176.90 530.13,176.90 530.34,176.90 530.55,176.90 530.76,176.90 530.98,176.90 531.19,176.90 531.40,176.90 531.61,176.90 531.82,176.90 532.04,176.90 532.25,176.90 532.46,176.90 532.67,176.90 532.88,176.90 533.10,176.90 533.31,176.90 533.52,176.90 533.73,176.90 533.94,176.90 534.16,176.90 534.37,176.90 534.58,176.90 534.79,176.90 535.00,176.90 535.22,176.90 535.43,176.90 535.64,176.90 535.85,176.90 536.07,176.90 536.28,176.90 536.49,176.90 536.70,176.90 536.91,176.90 537.13,176.90 537.34,176.90 537.55,176.90 537.76,176.90 537.97,176.90 538.19,176.90 538.40,176.90 538.61,176.90 538.82,176.90 539.03,176.90 539.25,176.90 539.46,176.90 539.67,176.90 539.88,176.90 540.09,176.90 540.31,176.90 540.52,176.90 540.73,176.90 540.94,176.90 541.15,176.90 541.37,176.90 541.58,176.90 541.79,176.90 542.00,176.90 542.22,176.90 542.43,176.90 542.64,176.90 542.85,176.90 543.06,176.90 543.28,176.90 543.49,176.90 543.70,176.90 543.91,176.90 544.12,176.90 544.34,176.90 544.55,176.90 544.76,176.90 544.97,176.90 545.18,176.90 545.40,176.90 545.61,176.90 545.82,176.90 546.03,176.90 546.25,176.90 546.46,176.90 546.67,176.90 546.88,176.90 547.09,176.90 547.31,176.90 547.52,176.90 547.73,176.90 547.94,176.90 548.15,176.90 548.37,176.90 548.58,176.90 548.79,176.90 549.00,176.90 549.21,176.90 549.43,176.90 549.64,176.90 549.85,176.90 550.06,176.90 550.27,176.90 550.49,176.90 550.70,176.90 550.91,176.90 551.12,176.90 551.34,176.90 551.55,176.90 551.76,176.90 551.97,176.90 552.18,176.90 552.40,176.90 552.61,176.90 552.82,176.90 553.03,176.90 553.24,176.90 553.46,176.90 553.67,176.90 553.88,176.90 554.09,176.90 554.30,176.90 554.52,176.90 554.73,176.90 554.94,176.90 555.15,176.90 555.36,176.90 555.58,176.90 555.79,176.90 556.00,176.90 556.21,176.90 556.42,176.90 556.64,176.90 556.85,176.90 557.06,176.90 557.27,176.90 557.49,176.90 557.70,176.90 557.91,176.90 558.12,176.90 558.33,176.90 558.55,176.90 558.76,176.90 558.97,176.90 559.18,176.90 559.39,176.90 559.61,176.90 559.82,176.90 560.03,176.90 560.24,176.90 560.45,176.90 560.67,176.90 560.88,176.90 561.09,176.90 561.30,176.90 561.51,176.90 561.73,176.90 561.94,176.90 562.15,176.90 562.36,176.90 562.58,176.90 562.79,176.90 563.00,176.90 563.21,176.90 563.42,176.90 563.64,176.90 563.85,176.90 564.06,176.90 564.27,176.90 564.48,176.90 564.70,176.90 564.91,176.90 565.12,176.90 565.33,176.90 565.54,176.90 565.76,176.90 565.97,176.90 566.18,176.90 566.39,176.90 566.61,176.90 566.82,176.90 567.03,176.90 567.24,176.90 567.45,176.90 567.67,176.90 567.88,176.90 568.09,176.90 568.30,176.90 568.51,176.90 568.73,176.90 568.94,176.90 569.15,176.90 569.36,176.90 569.57,176.90 569.79,176.90 570.00,176.90 570.21,176.90 570.42,176.90 570.63,176.90 570.85,176.90 571.06,176.90 571.27,176.90 571.48,176.90 571.69,176.90 571.91,176.90 572.12,176.90 572.33,176.90 572.54,176.90 572.76,176.90 572.97,176.90 573.18,176.90 573.39,176.90 573.60,176.90 573.82,176.90 574.03,176.90 574.24,176.90 574.45,176.90 574.66,176.90 574.88,176.90 575.09,176.90 575.30,176.90 575.51,176.90 575.72,176.90 575.94,176.90 576.15,176.90 576.36,176.90 576.57,176.90 576.78,176.90 577.00,176.90 577.21,176.90 577.42,176.90 577.63,176.90 577.85,176.90 578.06,176.90 578.27,176.90 578.48,176.90 578.69,176.90 578.91,176.90 579.12,176.90 579.33,176.90 579.54,176.90 579.75,176.90 579.97,176.90 580.18,176.90 580.39,176.90 580.60,176.90 580.81,176.90 581.03,176.90 581.24,176.90 581.45,176.90 581.66,176.90 581.88,176.90 582.09,176.90 582.30,176.90 582.51,176.90 582.72,176.90 582.94,176.90 583.15,176.90 583.36,176.90 583.57,176.90 583.78,176.90 584.00,176.90 584.21,176.90 584.42,176.90 584.63,176.90 584.84,176.90 585.06,176.90 585.27,176.90 585.48,176.90 585.69,176.90 585.90,176.90 586.12,176.90 586.33,176.90 586.54,176.90 586.75,176.90 586.97,176.90 587.18,176.90 587.39,176.90 587.60,176.90 587.81,176.90 588.03,176.90 588.24,176.90 588.45,176.90 588.66,176.90 588.87,176.90 589.09,176.90 589.30,176.90 589.51,176.90 589.72,176.90 589.93,176.90 590.15,176.90 590.36,176.90 590.57,176.90 590.78,176.90 590.99,176.90 591.21,176.90 591.42,176.90 591.63,176.90 591.84,176.90 592.06,176.90 592.27,176.90 592.48,176.90 592.69,176.90 592.90,176.90 593.12,176.90 593.33,176.90 593.54,176.90 593.75,176.90 593.96,176.90 594.18,176.90 594.39,176.90 594.60,176.90" stroke-width="1.3" stroke-linejoin="round"/>
</g>
<g font-family="Liberation Sans, Arial, sans-serif" font-weight="bold" fill="#1a1a1a" stroke="#1a1a1a" stroke-width="0.25">
<g font-size="9.0" text-anchor="middle">
<text x="340.10" y="189.40">40</text>
<text x="382.52" y="189.40">50</text>
<text x="424.93" y="189.40">60</text>
<text x="467.35" y="189.40">70</text>
<text x="509.77" y="189.40">80</text>
<text x="552.18" y="189.40">90</text>
<text x="594.60" y="189.40">100</text>
</g>
<g font-size="8.7" text-anchor="end">
<text x="334.80" y="179.30">0.0</text>
<text x="334.80" y="136.93">0.4</text>
<text x="334.80" y="94.55">0.8</text>
<text x="334.80" y="52.17">1.2</text>
<text x="334.80" y="9.80">1.6</text>
</g>
<text x="305.6" y="10.4" font-size="12.3">(b)</text>
<g transform="translate(315.2,137.9) rotate(-90)">
<text x="0" y="0" font-size="9.7">absorption,</text>
<text x="55.4" y="0" font-size="13.0" font-family="Liberation Serif, serif" font-weight="normal" stroke-width="0.3">α</text>
<text x="64.5" y="-0.4" font-size="10.15">(%)</text>
</g>
<text x="415" y="200" font-size="9.4">photon energy,</text>
<text x="483.5" y="200" font-size="9.2" font-family="Liberation Serif, serif" font-weight="normal" stroke-width="0.1" fill="#222">ħω</text>
<text x="496.0" y="200" font-size="9.6">(meV)</text>
<text y="46.7" font-size="11.3"><tspan x="353.60" font-weight="normal" stroke-width="0.15">Δ</tspan><tspan x="361.65 370.20 378.80">n=0</tspan></text>
<text y="135.9" font-size="11.3"><tspan x="392.00" font-weight="normal" stroke-width="0.15">Δ</tspan><tspan x="400.05 408.60 417.20">n=1</tspan></text>
<text y="167" font-size="11.3"><tspan x="432.00" font-weight="normal" stroke-width="0.15">Δ</tspan><tspan x="440.05 448.60 457.20">n=2</tspan></text>
<text x="523.6" y="27.0" font-size="11.5">B</text>
<text x="530.60" y="30.50" font-size="10.8" textLength="8.2" lengthAdjust="spacingAndGlyphs" font-weight="normal" stroke-width="0.1">⊥</text>
<text x="539.70" y="28.50" font-family="Liberation Serif, serif" font-weight="normal" font-size="11.8" stroke-width="0.22">=</text>
<text x="549.20" y="27.0" font-family="Liberation Serif, serif" font-weight="normal" font-size="11.8" stroke-width="0.22">5 T</text>
<text x="523.6" y="44.6" font-size="11.5">B</text>
<text x="531.50" y="47.90" font-size="10.5" font-weight="normal" stroke-width="0.1">||</text>
<text x="537.70" y="46.10" font-family="Liberation Serif, serif" font-weight="normal" font-size="11.8" stroke-width="0.22">=</text>
<text x="547.60" y="44.6" font-family="Liberation Serif, serif" font-weight="normal" font-size="11.8" stroke-width="0.22">5 T</text>
</g>
<g stroke="#1a1a1a" stroke-width="1.2" fill="none">
<rect x="35.90" y="213.90" width="255.00" height="167.60"/>
<path d="M35.90 381.50v3.6 M35.90 213.90v3.6 M57.15 381.50v2.1 M57.15 213.90v2.1 M78.40 381.50v3.6 M78.40 213.90v3.6 M99.65 381.50v2.1 M99.65 213.90v2.1 M120.90 381.50v3.6 M120.90 213.90v3.6 M142.15 381.50v2.1 M142.15 213.90v2.1 M163.40 381.50v3.6 M163.40 213.90v3.6 M184.65 381.50v2.1 M184.65 213.90v2.1 M205.90 381.50v3.6 M205.90 213.90v3.6 M227.15 381.50v2.1 M227.15 213.90v2.1 M248.40 381.50v3.6 M248.40 213.90v3.6 M269.65 381.50v2.1 M269.65 213.90v2.1 M290.90 381.50v3.6 M290.90 213.90v3.6 M35.90 381.50h-3.6 M35.90 360.55h-2.1 M35.90 339.60h-3.6 M35.90 318.65h-2.1 M35.90 297.70h-3.6 M35.90 276.75h-2.1 M35.90 255.80h-3.6 M35.90 234.85h-2.1 M35.90 213.90h-3.6 M290.90 381.50h-3.6 M290.90 371.02h-2.1 M290.90 360.55h-3.6 M290.90 350.07h-2.1 M290.90 339.60h-3.6 M290.90 329.12h-2.1 M290.90 318.65h-3.6 M290.90 308.18h-2.1 M290.90 297.70h-3.6 M290.90 287.23h-2.1 M290.90 276.75h-3.6 M290.90 266.27h-2.1 M290.90 255.80h-3.6 M290.90 245.33h-2.1 M290.90 234.85h-3.6 M290.90 224.38h-2.1 M290.90 213.90h-3.6"/>
<polyline points="35.90,381.50 36.11,381.50 36.33,381.50 36.54,381.50 36.75,381.50 36.96,381.50 37.17,381.50 37.39,381.50 37.60,381.50 37.81,381.50 38.02,381.50 38.24,381.50 38.45,381.50 38.66,381.50 38.88,381.50 39.09,381.50 39.30,381.50 39.51,381.50 39.72,381.50 39.94,381.50 40.15,381.50 40.36,381.50 40.58,381.50 40.79,381.50 41.00,381.50 41.21,381.50 41.42,381.50 41.64,381.50 41.85,381.50 42.06,381.50 42.27,381.50 42.49,381.50 42.70,381.50 42.91,381.50 43.13,381.50 43.34,381.50 43.55,381.50 43.76,381.50 43.97,381.50 44.19,381.50 44.40,381.50 44.61,381.50 44.83,381.50 45.04,381.50 45.25,381.50 45.46,381.50 45.67,381.50 45.89,381.50 46.10,381.50 46.31,381.50 46.52,381.50 46.74,381.50 46.95,381.50 47.16,381.50 47.38,381.50 47.59,381.50 47.80,381.50 48.01,381.50 48.22,381.50 48.44,381.50 48.65,381.50 48.86,381.50 49.08,381.50 49.29,381.50 49.50,381.50 49.71,381.50 49.92,381.50 50.14,381.50 50.35,381.50 50.56,381.50 50.77,381.50 50.99,381.50 51.20,381.50 51.41,381.50 51.63,381.50 51.84,381.50 52.05,381.50 52.26,381.50 52.47,381.50 52.69,381.50 52.90,381.50 53.11,381.50 53.33,381.50 53.54,381.50 53.75,381.50 53.96,381.50 54.17,381.50 54.39,381.50 54.60,381.50 54.81,381.50 55.02,381.50 55.24,381.50 55.45,381.50 55.66,381.50 55.88,381.50 56.09,381.50 56.30,381.50 56.51,381.50 56.72,381.50 56.94,381.49 57.15,381.49 57.36,381.49 57.58,381.49 57.79,381.49 58.00,381.48 58.21,381.48 58.42,381.47 58.64,381.47 58.85,381.46 59.06,381.45 59.27,381.44 59.49,381.43 59.70,381.41 59.91,381.39 60.13,381.37 60.34,381.34 60.55,381.31 60.76,381.28 60.97,381.23 61.19,381.18 61.40,381.12 61.61,381.05 61.83,380.97 62.04,380.88 62.25,380.77 62.46,380.64 62.67,380.50 62.89,380.33 63.10,380.14 63.31,379.92 63.52,379.67 63.74,379.39 63.95,379.07 64.16,378.71 64.38,378.30 64.59,377.84 64.80,377.33 65.01,376.75 65.22,376.12 65.44,375.41 65.65,374.62 65.86,373.75 66.08,372.80 66.29,371.75 66.50,370.60 66.71,369.35 66.92,367.99 67.14,366.51 67.35,364.91 67.56,363.19 67.77,361.34 67.99,359.36 68.20,357.25 68.41,355.00 68.62,352.61 68.84,350.08 69.05,347.42 69.26,344.63 69.47,341.71 69.69,338.67 69.90,335.50 70.11,332.23 70.32,328.85 70.54,325.39 70.75,321.84 70.96,318.24 71.17,314.57 71.39,310.88 71.60,307.17 71.81,303.45 72.02,299.76 72.24,296.10 72.45,292.50 72.66,288.99 72.88,285.57 73.09,282.28 73.30,279.13 73.51,276.15 73.72,273.34 73.94,270.74 74.15,268.37 74.36,266.22 74.57,264.34 74.79,262.71 75.00,261.37 75.21,260.31 75.42,259.55 75.64,259.10 75.85,258.94 76.06,259.10 76.27,259.55 76.49,260.31 76.70,261.37 76.91,262.71 77.12,264.34 77.34,266.22 77.55,268.37 77.76,270.74 77.97,273.34 78.19,276.15 78.40,279.13 78.61,282.28 78.82,285.57 79.04,288.99 79.25,292.50 79.46,296.10 79.67,299.76 79.89,303.45 80.10,307.17 80.31,310.88 80.52,314.57 80.74,318.24 80.95,321.84 81.16,325.39 81.38,328.85 81.59,332.23 81.80,335.50 82.01,338.67 82.22,341.71 82.44,344.63 82.65,347.42 82.86,350.08 83.07,352.61 83.29,355.00 83.50,357.25 83.71,359.36 83.92,361.34 84.14,363.19 84.35,364.91 84.56,366.51 84.77,367.99 84.99,369.35 85.20,370.60 85.41,371.75 85.62,372.80 85.84,373.75 86.05,374.62 86.26,375.41 86.47,376.12 86.69,376.75 86.90,377.33 87.11,377.84 87.32,378.30 87.54,378.71 87.75,379.07 87.96,379.39 88.17,379.67 88.39,379.92 88.60,380.14 88.81,380.33 89.02,380.50 89.24,380.64 89.45,380.77 89.66,380.88 89.88,380.97 90.09,381.05 90.30,381.12 90.51,381.18 90.72,381.23 90.94,381.27 91.15,381.31 91.36,381.34 91.57,381.37 91.79,381.39 92.00,381.41 92.21,381.42 92.42,381.44 92.64,381.45 92.85,381.46 93.06,381.46 93.27,381.47 93.49,381.47 93.70,381.47 93.91,381.47 94.12,381.47 94.34,381.47 94.55,381.47 94.76,381.47 94.97,381.46 95.19,381.46 95.40,381.45 95.61,381.44 95.82,381.43 96.04,381.41 96.25,381.39 96.46,381.37 96.67,381.35 96.89,381.32 97.10,381.28 97.31,381.24 97.52,381.19 97.74,381.13 97.95,381.06 98.16,380.98 98.38,380.88 98.59,380.78 98.80,380.65 99.01,380.50 99.22,380.33 99.44,380.14 99.65,379.92 99.86,379.66 100.07,379.37 100.29,379.05 100.50,378.67 100.71,378.25 100.92,377.78 101.14,377.25 101.35,376.65 101.56,375.98 101.77,375.24 101.99,374.42 102.20,373.50 102.41,372.49 102.62,371.38 102.84,370.17 103.05,368.83 103.26,367.38 103.47,365.79 103.69,364.08 103.90,362.22 104.11,360.22 104.32,358.07 104.54,355.77 104.75,353.31 104.96,350.69 105.17,347.92 105.39,344.98 105.60,341.89 105.81,338.65 106.02,335.25 106.24,331.71 106.45,328.03 106.66,324.23 106.88,320.31 107.09,316.28 107.30,312.16 107.51,307.96 107.72,303.71 107.94,299.41 108.15,295.09 108.36,290.78 108.57,286.48 108.79,282.23 109.00,278.05 109.21,273.97 109.42,270.00 109.64,266.17 109.85,262.51 110.06,259.04 110.27,255.78 110.49,252.76 110.70,249.99 110.91,247.50 111.12,245.31 111.34,243.42 111.55,241.86 111.76,240.63 111.97,239.75 112.19,239.22 112.40,239.04 112.61,239.22 112.82,239.75 113.04,240.63 113.25,241.86 113.46,243.42 113.67,245.31 113.89,247.50 114.10,249.99 114.31,252.76 114.52,255.78 114.74,259.04 114.95,262.51 115.16,266.17 115.38,270.00 115.59,273.97 115.80,278.05 116.01,282.23 116.22,286.48 116.44,290.78 116.65,295.09 116.86,299.41 117.07,303.71 117.29,307.96 117.50,312.16 117.71,316.28 117.92,320.31 118.14,324.23 118.35,328.03 118.56,331.71 118.77,335.25 118.99,338.65 119.20,341.89 119.41,344.98 119.62,347.92 119.84,350.69 120.05,353.31 120.26,355.77 120.47,358.07 120.69,360.22 120.90,362.22 121.11,364.08 121.32,365.79 121.54,367.38 121.75,368.83 121.96,370.17 122.17,371.38 122.39,372.49 122.60,373.50 122.81,374.42 123.02,375.24 123.24,375.98 123.45,376.65 123.66,377.25 123.88,377.78 124.09,378.25 124.30,378.67 124.51,379.05 124.72,379.37 124.94,379.66 125.15,379.92 125.36,380.14 125.57,380.33 125.79,380.50 126.00,380.65 126.21,380.78 126.42,380.88 126.64,380.98 126.85,381.06 127.06,381.13 127.27,381.19 127.49,381.24 127.70,381.28 127.91,381.32 128.12,381.35 128.34,381.37 128.55,381.39 128.76,381.41 128.97,381.43 129.19,381.44 129.40,381.45 129.61,381.46 129.82,381.46 130.04,381.47 130.25,381.47 130.46,381.48 130.67,381.48 130.89,381.48 131.10,381.48 131.31,381.48 131.52,381.48 131.74,381.47 131.95,381.47 132.16,381.46 132.38,381.46 132.59,381.45 132.80,381.44 133.01,381.43 133.22,381.41 133.44,381.39 133.65,381.37 133.86,381.35 134.07,381.32 134.29,381.29 134.50,381.25 134.71,381.20 134.92,381.15 135.14,381.08 135.35,381.01 135.56,380.93 135.77,380.83 135.99,380.72 136.20,380.59 136.41,380.45 136.62,380.28 136.84,380.09 137.05,379.88 137.26,379.64 137.47,379.37 137.69,379.06 137.90,378.72 138.11,378.34 138.32,377.91 138.54,377.44 138.75,376.91 138.96,376.34 139.17,375.70 139.39,375.00 139.60,374.23 139.81,373.40 140.02,372.49 140.24,371.51 140.45,370.44 140.66,369.29 140.88,368.06 141.09,366.74 141.30,365.33 141.51,363.83 141.72,362.24 141.94,360.56 142.15,358.78 142.36,356.92 142.57,354.97 142.79,352.94 143.00,350.84 143.21,348.65 143.42,346.40 143.64,344.09 143.85,341.73 144.06,339.32 144.27,336.88 144.49,334.42 144.70,331.94 144.91,329.47 145.12,327.00 145.34,324.57 145.55,322.17 145.76,319.83 145.97,317.55 146.19,315.35 146.40,313.25 146.61,311.26 146.82,309.40 147.04,307.66 147.25,306.08 147.46,304.65 147.67,303.39 147.89,302.31 148.10,301.41 148.31,300.71 148.52,300.20 148.74,299.90 148.95,299.80 149.16,299.90 149.38,300.20 149.59,300.71 149.80,301.41 150.01,302.31 150.22,303.39 150.44,304.65 150.65,306.08 150.86,307.66 151.07,309.40 151.29,311.26 151.50,313.25 151.71,315.35 151.92,317.55 152.14,319.83 152.35,322.17 152.56,324.57 152.77,327.00 152.99,329.47 153.20,331.94 153.41,334.42 153.62,336.88 153.84,339.32 154.05,341.73 154.26,344.09 154.47,346.40 154.69,348.65 154.90,350.84 155.11,352.94 155.32,354.97 155.54,356.92 155.75,358.78 155.96,360.56 156.17,362.24 156.39,363.83 156.60,365.33 156.81,366.74 157.02,368.06 157.24,369.29 157.45,370.44 157.66,371.51 157.87,372.49 158.09,373.40 158.30,374.23 158.51,375.00 158.72,375.70 158.94,376.34 159.15,376.91 159.36,377.44 159.57,377.91 159.79,378.34 160.00,378.72 160.21,379.06 160.42,379.37 160.64,379.64 160.85,379.88 161.06,380.09 161.27,380.28 161.49,380.45 161.70,380.59 161.91,380.72 162.12,380.83 162.34,380.93 162.55,381.01 162.76,381.08 162.97,381.15 163.19,381.20 163.40,381.25 163.61,381.29 163.82,381.32 164.04,381.35 164.25,381.37 164.46,381.40 164.67,381.41 164.89,381.43 165.10,381.44 165.31,381.45 165.52,381.46 165.74,381.47 165.95,381.47 166.16,381.48 166.38,381.48 166.59,381.48 166.80,381.49 167.01,381.49 167.22,381.49 167.44,381.49 167.65,381.49 167.86,381.49 168.07,381.49 168.29,381.49 168.50,381.49 168.71,381.49 168.92,381.49 169.14,381.49 169.35,381.48 169.56,381.48 169.77,381.48 169.99,381.47 170.20,381.47 170.41,381.46 170.62,381.45 170.84,381.44 171.05,381.43 171.26,381.42 171.47,381.41 171.69,381.39 171.90,381.37 172.11,381.35 172.32,381.32 172.54,381.29 172.75,381.25 172.96,381.21 173.17,381.16 173.39,381.11 173.60,381.05 173.81,380.98 174.02,380.90 174.24,380.81 174.45,380.71 174.66,380.59 174.88,380.47 175.09,380.32 175.30,380.17 175.51,379.99 175.72,379.79 175.94,379.58 176.15,379.34 176.36,379.08 176.57,378.80 176.79,378.49 177.00,378.15 177.21,377.78 177.42,377.39 177.64,376.96 177.85,376.50 178.06,376.01 178.27,375.49 178.49,374.93 178.70,374.34 178.91,373.71 179.12,373.05 179.34,372.36 179.55,371.64 179.76,370.88 179.97,370.10 180.19,369.29 180.40,368.45 180.61,367.59 180.82,366.71 181.04,365.82 181.25,364.91 181.46,364.00 181.67,363.08 181.89,362.15 182.10,361.24 182.31,360.33 182.52,359.44 182.74,358.57 182.95,357.72 183.16,356.91 183.38,356.13 183.59,355.39 183.80,354.69 184.01,354.05 184.22,353.46 184.44,352.93 184.65,352.46 184.86,352.06 185.07,351.72 185.29,351.46 185.50,351.27 185.71,351.16 185.92,351.12 186.14,351.16 186.35,351.27 186.56,351.46 186.77,351.72 186.99,352.06 187.20,352.46 187.41,352.93 187.62,353.46 187.84,354.05 188.05,354.69 188.26,355.39 188.47,356.13 188.69,356.91 188.90,357.72 189.11,358.57 189.32,359.44 189.54,360.33 189.75,361.24 189.96,362.15 190.17,363.08 190.39,364.00 190.60,364.91 190.81,365.82 191.02,366.71 191.24,367.59 191.45,368.45 191.66,369.29 191.87,370.10 192.09,370.88 192.30,371.64 192.51,372.36 192.72,373.05 192.94,373.71 193.15,374.34 193.36,374.93 193.57,375.49 193.79,376.01 194.00,376.50 194.21,376.96 194.42,377.39 194.64,377.78 194.85,378.15 195.06,378.49 195.27,378.80 195.49,379.08 195.70,379.34 195.91,379.58 196.12,379.79 196.34,379.99 196.55,380.17 196.76,380.32 196.97,380.47 197.19,380.59 197.40,380.71 197.61,380.81 197.82,380.90 198.04,380.98 198.25,381.05 198.46,381.11 198.67,381.16 198.89,381.21 199.10,381.25 199.31,381.29 199.52,381.32 199.74,381.35 199.95,381.37 200.16,381.39 200.37,381.41 200.59,381.42 200.80,381.43 201.01,381.44 201.22,381.45 201.44,381.46 201.65,381.47 201.86,381.47 202.07,381.48 202.29,381.48 202.50,381.48 202.71,381.49 202.92,381.49 203.14,381.49 203.35,381.49 203.56,381.49 203.77,381.50 203.99,381.50 204.20,381.50 204.41,381.50 204.62,381.50 204.84,381.50 205.05,381.50 205.26,381.50 205.47,381.50 205.69,381.50 205.90,381.50 206.11,381.50 206.32,381.50 206.54,381.49 206.75,381.49 206.96,381.49 207.17,381.49 207.39,381.49 207.60,381.49 207.81,381.48 208.02,381.48 208.24,381.48 208.45,381.47 208.66,381.47 208.87,381.46 209.09,381.46 209.30,381.45 209.51,381.44 209.72,381.43 209.94,381.42 210.15,381.41 210.36,381.39 210.57,381.37 210.79,381.36 211.00,381.33 211.21,381.31 211.42,381.28 211.64,381.25 211.85,381.21 212.06,381.18 212.27,381.13 212.49,381.08 212.70,381.03 212.91,380.97 213.12,380.90 213.34,380.83 213.55,380.75 213.76,380.67 213.97,380.58 214.19,380.48 214.40,380.37 214.61,380.25 214.82,380.12 215.04,379.99 215.25,379.84 215.46,379.69 215.67,379.52 215.89,379.35 216.10,379.17 216.31,378.98 216.52,378.78 216.74,378.57 216.95,378.35 217.16,378.13 217.37,377.90 217.59,377.66 217.80,377.42 218.01,377.17 218.22,376.92 218.44,376.67 218.65,376.42 218.86,376.16 219.07,375.91 219.29,375.66 219.50,375.41 219.71,375.17 219.92,374.94 220.14,374.72 220.35,374.50 220.56,374.30 220.77,374.10 220.99,373.93 221.20,373.76 221.41,373.62 221.62,373.49 221.84,373.38 222.05,373.29 222.26,373.21 222.47,373.16 222.69,373.13 222.90,373.12 223.11,373.13 223.32,373.16 223.54,373.21 223.75,373.29 223.96,373.38 224.17,373.49 224.39,373.62 224.60,373.76 224.81,373.93 225.02,374.10 225.24,374.30 225.45,374.50 225.66,374.72 225.87,374.94 226.09,375.17 226.30,375.41 226.51,375.66 226.72,375.91 226.94,376.16 227.15,376.42 227.36,376.67 227.57,376.92 227.79,377.17 228.00,377.42 228.21,377.66 228.42,377.90 228.64,378.13 228.85,378.35 229.06,378.57 229.27,378.78 229.49,378.98 229.70,379.17 229.91,379.35 230.12,379.52 230.34,379.69 230.55,379.84 230.76,379.99 230.97,380.12 231.19,380.25 231.40,380.37 231.61,380.48 231.82,380.58 232.04,380.67 232.25,380.75 232.46,380.83 232.67,380.90 232.89,380.97 233.10,381.03 233.31,381.08 233.52,381.13 233.74,381.18 233.95,381.21 234.16,381.25 234.37,381.28 234.59,381.31 234.80,381.33 235.01,381.36 235.22,381.37 235.44,381.39 235.65,381.41 235.86,381.42 236.07,381.43 236.29,381.44 236.50,381.45 236.71,381.46 236.92,381.46 237.14,381.47 237.35,381.47 237.56,381.48 237.77,381.48 237.99,381.48 238.20,381.49 238.41,381.49 238.62,381.49 238.84,381.49 239.05,381.49 239.26,381.49 239.47,381.50 239.69,381.50 239.90,381.50 240.11,381.50 240.32,381.50 240.54,381.50 240.75,381.50 240.96,381.50 241.17,381.50 241.39,381.50 241.60,381.50 241.81,381.50 242.02,381.50 242.24,381.50 242.45,381.50 242.66,381.50 242.87,381.50 243.09,381.50 243.30,381.50 243.51,381.50 243.72,381.50 243.94,381.50 244.15,381.50 244.36,381.50 244.57,381.50 244.79,381.50 245.00,381.50 245.21,381.50 245.42,381.50 245.64,381.50 245.85,381.50 246.06,381.50 246.27,381.50 246.49,381.50 246.70,381.50 246.91,381.50 247.12,381.50 247.34,381.50 247.55,381.50 247.76,381.50 247.97,381.50 248.19,381.50 248.40,381.50 248.61,381.50 248.82,381.50 249.04,381.50 249.25,381.50 249.46,381.50 249.67,381.50 249.89,381.50 250.10,381.50 250.31,381.50 250.52,381.50 250.74,381.50 250.95,381.50 251.16,381.50 251.37,381.50 251.59,381.50 251.80,381.50 252.01,381.50 252.22,381.50 252.44,381.50 252.65,381.50 252.86,381.50 253.07,381.50 253.29,381.50 253.50,381.50 253.71,381.50 253.92,381.50 254.14,381.50 254.35,381.50 254.56,381.50 254.77,381.50 254.99,381.50 255.20,381.50 255.41,381.50 255.62,381.50 255.84,381.50 256.05,381.50 256.26,381.50 256.47,381.50 256.69,381.50 256.90,381.50 257.11,381.50 257.32,381.50 257.54,381.50 257.75,381.50 257.96,381.50 258.17,381.50 258.39,381.50 258.60,381.50 258.81,381.50 259.02,381.50 259.24,381.50 259.45,381.50 259.66,381.50 259.87,381.50 260.09,381.50 260.30,381.50 260.51,381.50 260.72,381.50 260.94,381.50 261.15,381.50 261.36,381.50 261.57,381.50 261.79,381.50 262.00,381.50 262.21,381.50 262.42,381.50 262.64,381.50 262.85,381.50 263.06,381.50 263.27,381.50 263.49,381.50 263.70,381.50 263.91,381.50 264.12,381.50 264.34,381.50 264.55,381.50 264.76,381.50 264.97,381.50 265.19,381.50 265.40,381.50 265.61,381.50 265.82,381.50 266.04,381.50 266.25,381.50 266.46,381.50 266.67,381.50 266.89,381.50 267.10,381.50 267.31,381.50 267.52,381.50 267.74,381.50 267.95,381.50 268.16,381.50 268.37,381.50 268.59,381.50 268.80,381.50 269.01,381.50 269.22,381.50 269.44,381.50 269.65,381.50 269.86,381.50 270.07,381.50 270.29,381.50 270.50,381.50 270.71,381.50 270.92,381.50 271.14,381.50 271.35,381.50 271.56,381.50 271.77,381.50 271.99,381.50 272.20,381.50 272.41,381.50 272.62,381.50 272.84,381.50 273.05,381.50 273.26,381.50 273.47,381.50 273.69,381.50 273.90,381.50 274.11,381.50 274.32,381.50 274.54,381.50 274.75,381.50 274.96,381.50 275.17,381.50 275.39,381.50 275.60,381.50 275.81,381.50 276.02,381.50 276.24,381.50 276.45,381.50 276.66,381.50 276.87,381.50 277.09,381.50 277.30,381.50 277.51,381.50 277.72,381.50 277.94,381.50 278.15,381.50 278.36,381.50 278.57,381.50 278.79,381.50 279.00,381.50 279.21,381.50 279.42,381.50 279.64,381.50 279.85,381.50 280.06,381.50 280.27,381.50 280.49,381.50 280.70,381.50 280.91,381.50 281.12,381.50 281.34,381.50 281.55,381.50 281.76,381.50 281.97,381.50 282.19,381.50 282.40,381.50 282.61,381.50 282.82,381.50 283.04,381.50 283.25,381.50 283.46,381.50 283.67,381.50 283.89,381.50 284.10,381.50 284.31,381.50 284.52,381.50 284.74,381.50 284.95,381.50 285.16,381.50 285.37,381.50 285.59,381.50 285.80,381.50 286.01,381.50 286.22,381.50 286.44,381.50 286.65,381.50 286.86,381.50 287.07,381.50 287.29,381.50 287.50,381.50 287.71,381.50 287.92,381.50 288.14,381.50 288.35,381.50 288.56,381.50 288.77,381.50 288.99,381.50 289.20,381.50 289.41,381.50 289.62,381.50 289.84,381.50 290.05,381.50 290.26,381.50 290.47,381.50 290.69,381.50 290.90,381.50" stroke-width="1.3" stroke-linejoin="round"/>
</g>
<g font-family="Liberation Sans, Arial, sans-serif" font-weight="bold" fill="#1a1a1a" stroke="#1a1a1a" stroke-width="0.25">
<g font-size="9.0" text-anchor="middle">
<text x="35.90" y="393.70">40</text>
<text x="78.40" y="393.70">50</text>
<text x="120.90" y="393.70">60</text>
<text x="163.40" y="393.70">70</text>
<text x="205.90" y="393.70">80</text>
<text x="248.40" y="393.70">90</text>
<text x="290.90" y="393.70">100</text>
</g>
<g font-size="8.7" text-anchor="end">
<text x="30.40" y="383.90">0.0</text>
<text x="30.40" y="342.00">0.2</text>
<text x="30.40" y="300.10">0.4</text>
<text x="30.40" y="258.20">0.6</text>
<text x="30.40" y="216.30">0.8</text>
</g>
<text x="1.3" y="217.2" font-size="12.3">(c)</text>
<g transform="translate(11.3,342.5) rotate(-90)">
<text x="0" y="0" font-size="9.7">absorption,</text>
<text x="55.4" y="0" font-size="13.0" font-family="Liberation Serif, serif" font-weight="normal" stroke-width="0.3">α</text>
<text x="64.5" y="-0.4" font-size="10.15">(%)</text>
</g>
<text x="111" y="403.5" font-size="9.4">photon energy,</text>
<text x="179.5" y="403.5" font-size="9.2" font-family="Liberation Serif, serif" font-weight="normal" stroke-width="0.1" fill="#222">ħω</text>
<text x="192.0" y="403.5" font-size="9.6">(meV)</text>
<text y="257" font-size="11.3"><tspan x="56.00" font-weight="normal" stroke-width="0.15">Δ</tspan><tspan x="64.05 72.60 81.20">n=0</tspan></text>
<text y="238" font-size="11.3"><tspan x="92.50" font-weight="normal" stroke-width="0.15">Δ</tspan><tspan x="100.55 109.10 117.70">n=1</tspan></text>
<text y="298" font-size="11.3"><tspan x="128.50" font-weight="normal" stroke-width="0.15">Δ</tspan><tspan x="136.55 145.10 153.70">n=2</tspan></text>
<text y="349" font-size="11.3"><tspan x="165.50" font-weight="normal" stroke-width="0.15">Δ</tspan><tspan x="173.55 182.10 190.70">n=3</tspan></text>
<text y="369.2" font-size="11.3"><tspan x="203.00" font-weight="normal" stroke-width="0.15">Δ</tspan><tspan x="211.05 219.60 228.20">n=4</tspan></text>
<text x="219.0" y="233.4" font-size="11.5">B</text>
<text x="226.00" y="236.90" font-size="10.8" textLength="8.2" lengthAdjust="spacingAndGlyphs" font-weight="normal" stroke-width="0.1">⊥</text>
<text x="235.90" y="234.90" font-family="Liberation Serif, serif" font-weight="normal" font-size="11.8" stroke-width="0.22">=</text>
<text x="245.40" y="233.4" font-family="Liberation Serif, serif" font-weight="normal" font-size="11.8" stroke-width="0.22">5 T</text>
<text x="219.0" y="250.7" font-size="11.5">B</text>
<text x="226.90" y="254.00" font-size="10.5" font-weight="normal" stroke-width="0.1">||</text>
<text x="234.00" y="252.20" font-family="Liberation Serif, serif" font-weight="normal" font-size="11.8" stroke-width="0.22">=</text>
<text x="243.90" y="250.7" font-family="Liberation Serif, serif" font-weight="normal" font-size="11.8" stroke-width="0.22" letter-spacing="-0.3">10 T</text>
</g>
<g stroke="#1a1a1a" stroke-width="1.2" fill="none">
<rect x="340.70" y="214.90" width="254.50" height="167.50"/>
<path d="M340.70 382.40v3.6 M340.70 214.90v3.6 M361.91 382.40v2.1 M361.91 214.90v2.1 M383.12 382.40v3.6 M383.12 214.90v3.6 M404.32 382.40v2.1 M404.32 214.90v2.1 M425.53 382.40v3.6 M425.53 214.90v3.6 M446.74 382.40v2.1 M446.74 214.90v2.1 M467.95 382.40v3.6 M467.95 214.90v3.6 M489.16 382.40v2.1 M489.16 214.90v2.1 M510.37 382.40v3.6 M510.37 214.90v3.6 M531.58 382.40v2.1 M531.58 214.90v2.1 M552.78 382.40v3.6 M552.78 214.90v3.6 M573.99 382.40v2.1 M573.99 214.90v2.1 M595.20 382.40v3.6 M595.20 214.90v3.6 M340.70 382.40h-3.6 M340.70 361.46h-2.1 M340.70 340.52h-3.6 M340.70 319.59h-2.1 M340.70 298.65h-3.6 M340.70 277.71h-2.1 M340.70 256.77h-3.6 M340.70 235.84h-2.1 M340.70 214.90h-3.6 M595.20 382.40h-3.6 M595.20 371.93h-2.1 M595.20 361.46h-3.6 M595.20 350.99h-2.1 M595.20 340.52h-3.6 M595.20 330.06h-2.1 M595.20 319.59h-3.6 M595.20 309.12h-2.1 M595.20 298.65h-3.6 M595.20 288.18h-2.1 M595.20 277.71h-3.6 M595.20 267.24h-2.1 M595.20 256.77h-3.6 M595.20 246.31h-2.1 M595.20 235.84h-3.6 M595.20 225.37h-2.1 M595.20 214.90h-3.6"/>
<polyline points="340.70,382.40 340.91,382.40 341.12,382.40 341.34,382.40 341.55,382.40 341.76,382.40 341.97,382.40 342.18,382.40 342.40,382.40 342.61,382.40 342.82,382.40 343.03,382.40 343.25,382.40 343.46,382.40 343.67,382.40 343.88,382.40 344.09,382.40 344.31,382.40 344.52,382.40 344.73,382.40 344.94,382.40 345.15,382.40 345.37,382.40 345.58,382.40 345.79,382.40 346.00,382.40 346.21,382.40 346.43,382.40 346.64,382.40 346.85,382.40 347.06,382.40 347.27,382.40 347.49,382.40 347.70,382.40 347.91,382.40 348.12,382.40 348.33,382.40 348.55,382.40 348.76,382.40 348.97,382.40 349.18,382.40 349.40,382.40 349.61,382.40 349.82,382.40 350.03,382.40 350.24,382.40 350.46,382.40 350.67,382.40 350.88,382.40 351.09,382.40 351.30,382.40 351.52,382.40 351.73,382.40 351.94,382.40 352.15,382.40 352.36,382.40 352.58,382.40 352.79,382.40 353.00,382.40 353.21,382.40 353.43,382.40 353.64,382.40 353.85,382.40 354.06,382.40 354.27,382.40 354.49,382.40 354.70,382.40 354.91,382.40 355.12,382.40 355.33,382.40 355.55,382.40 355.76,382.40 355.97,382.40 356.18,382.40 356.39,382.40 356.61,382.40 356.82,382.40 357.03,382.40 357.24,382.40 357.45,382.40 357.67,382.40 357.88,382.40 358.09,382.40 358.30,382.40 358.51,382.40 358.73,382.40 358.94,382.40 359.15,382.40 359.36,382.40 359.58,382.40 359.79,382.40 360.00,382.40 360.21,382.40 360.42,382.40 360.64,382.40 360.85,382.40 361.06,382.40 361.27,382.40 361.48,382.40 361.70,382.40 361.91,382.40 362.12,382.40 362.33,382.40 362.54,382.40 362.76,382.40 362.97,382.40 363.18,382.40 363.39,382.40 363.61,382.40 363.82,382.40 364.03,382.40 364.24,382.40 364.45,382.40 364.67,382.40 364.88,382.40 365.09,382.40 365.30,382.40 365.51,382.40 365.73,382.40 365.94,382.40 366.15,382.40 366.36,382.40 366.57,382.40 366.79,382.40 367.00,382.40 367.21,382.40 367.42,382.40 367.63,382.40 367.85,382.40 368.06,382.40 368.27,382.40 368.48,382.40 368.69,382.40 368.91,382.40 369.12,382.40 369.33,382.40 369.54,382.40 369.76,382.40 369.97,382.40 370.18,382.40 370.39,382.40 370.60,382.40 370.82,382.40 371.03,382.40 371.24,382.40 371.45,382.40 371.66,382.40 371.88,382.40 372.09,382.40 372.30,382.40 372.51,382.40 372.72,382.39 372.94,382.39 373.15,382.39 373.36,382.39 373.57,382.39 373.78,382.38 374.00,382.38 374.21,382.38 374.42,382.37 374.63,382.37 374.85,382.36 375.06,382.35 375.27,382.34 375.48,382.33 375.69,382.32 375.91,382.30 376.12,382.28 376.33,382.26 376.54,382.23 376.75,382.21 376.97,382.17 377.18,382.13 377.39,382.09 377.60,382.04 377.81,381.98 378.03,381.91 378.24,381.83 378.45,381.74 378.66,381.64 378.88,381.53 379.09,381.41 379.30,381.26 379.51,381.11 379.72,380.93 379.94,380.73 380.15,380.51 380.36,380.27 380.57,380.00 380.78,379.71 381.00,379.38 381.21,379.03 381.42,378.65 381.63,378.23 381.84,377.77 382.06,377.28 382.27,376.76 382.48,376.19 382.69,375.58 382.90,374.93 383.12,374.24 383.33,373.51 383.54,372.74 383.75,371.93 383.97,371.08 384.18,370.19 384.39,369.26 384.60,368.30 384.81,367.30 385.03,366.27 385.24,365.22 385.45,364.14 385.66,363.05 385.87,361.94 386.09,360.82 386.30,359.70 386.51,358.58 386.72,357.46 386.93,356.36 387.15,355.27 387.36,354.22 387.57,353.19 387.78,352.20 387.99,351.26 388.21,350.37 388.42,349.53 388.63,348.76 388.84,348.05 389.06,347.42 389.27,346.87 389.48,346.39 389.69,346.00 389.90,345.70 390.12,345.49 390.33,345.37 390.54,345.34 390.75,345.41 390.96,345.56 391.18,345.81 391.39,346.15 391.60,346.57 391.81,347.08 392.02,347.67 392.24,348.33 392.45,349.06 392.66,349.86 392.87,350.72 393.08,351.63 393.30,352.59 393.51,353.60 393.72,354.64 393.93,355.71 394.14,356.80 394.36,357.90 394.57,359.02 394.78,360.15 394.99,361.27 395.21,362.39 395.42,363.49 395.63,364.58 395.84,365.64 396.05,366.69 396.27,367.70 396.48,368.69 396.69,369.63 396.90,370.55 397.11,371.42 397.33,372.26 397.54,373.06 397.75,373.81 397.96,374.52 398.17,375.20 398.39,375.83 398.60,376.42 398.81,376.97 399.02,377.48 399.24,377.96 399.45,378.40 399.66,378.80 399.87,379.18 400.08,379.52 400.30,379.83 400.51,380.11 400.72,380.37 400.93,380.60 401.14,380.81 401.36,381.00 401.57,381.17 401.78,381.32 401.99,381.46 402.20,381.58 402.42,381.69 402.63,381.78 402.84,381.86 403.05,381.94 403.26,382.00 403.48,382.06 403.69,382.11 403.90,382.15 404.11,382.19 404.32,382.22 404.54,382.25 404.75,382.27 404.96,382.29 405.17,382.31 405.39,382.32 405.60,382.33 405.81,382.34 406.02,382.35 406.23,382.36 406.45,382.37 406.66,382.37 406.87,382.38 407.08,382.38 407.29,382.38 407.51,382.39 407.72,382.39 407.93,382.39 408.14,382.39 408.35,382.39 408.57,382.39 408.78,382.39 408.99,382.39 409.20,382.38 409.42,382.38 409.63,382.38 409.84,382.37 410.05,382.37 410.26,382.36 410.48,382.35 410.69,382.34 410.90,382.33 411.11,382.31 411.32,382.29 411.54,382.27 411.75,382.25 411.96,382.22 412.17,382.18 412.38,382.14 412.60,382.09 412.81,382.03 413.02,381.97 413.23,381.89 413.44,381.80 413.66,381.70 413.87,381.58 414.08,381.45 414.29,381.29 414.50,381.11 414.72,380.91 414.93,380.68 415.14,380.42 415.35,380.13 415.57,379.80 415.78,379.43 415.99,379.01 416.20,378.55 416.41,378.03 416.63,377.46 416.84,376.83 417.05,376.13 417.26,375.36 417.47,374.51 417.69,373.59 417.90,372.58 418.11,371.49 418.32,370.30 418.53,369.02 418.75,367.63 418.96,366.15 419.17,364.56 419.38,362.87 419.60,361.07 419.81,359.16 420.02,357.14 420.23,355.01 420.44,352.78 420.66,350.45 420.87,348.03 421.08,345.51 421.29,342.90 421.50,340.22 421.72,337.46 421.93,334.65 422.14,331.78 422.35,328.88 422.56,325.95 422.78,323.01 422.99,320.08 423.20,317.16 423.41,314.28 423.62,311.44 423.84,308.68 424.05,305.99 424.26,303.41 424.47,300.95 424.69,298.61 424.90,296.43 425.11,294.40 425.32,292.56 425.53,290.90 425.75,289.45 425.96,288.21 426.17,287.19 426.38,286.40 426.59,285.85 426.81,285.54 427.02,285.46 427.23,285.63 427.44,286.04 427.65,286.69 427.87,287.57 428.08,288.68 428.29,290.01 428.50,291.54 428.71,293.27 428.93,295.19 429.14,297.28 429.35,299.53 429.56,301.92 429.78,304.43 429.99,307.06 430.20,309.78 430.41,312.57 430.62,315.43 430.84,318.33 431.05,321.25 431.26,324.19 431.47,327.13 431.68,330.04 431.90,332.93 432.11,335.78 432.32,338.57 432.53,341.30 432.74,343.95 432.96,346.52 433.17,349.01 433.38,351.40 433.59,353.69 433.80,355.88 434.02,357.96 434.23,359.93 434.44,361.80 434.65,363.56 434.87,365.21 435.08,366.76 435.29,368.20 435.50,369.54 435.71,370.78 435.93,371.93 436.14,372.99 436.35,373.97 436.56,374.86 436.77,375.67 436.99,376.41 437.20,377.09 437.41,377.70 437.62,378.25 437.83,378.74 438.05,379.18 438.26,379.58 438.47,379.94 438.68,380.25 438.89,380.53 439.11,380.78 439.32,380.99 439.53,381.19 439.74,381.35 439.96,381.50 440.17,381.63 440.38,381.74 440.59,381.84 440.80,381.92 441.02,381.99 441.23,382.06 441.44,382.11 441.65,382.16 441.86,382.19 442.08,382.23 442.29,382.26 442.50,382.28 442.71,382.30 442.92,382.32 443.14,382.33 443.35,382.34 443.56,382.35 443.77,382.36 443.98,382.37 444.20,382.37 444.41,382.37 444.62,382.38 444.83,382.38 445.05,382.38 445.26,382.38 445.47,382.38 445.68,382.38 445.89,382.37 446.11,382.37 446.32,382.36 446.53,382.35 446.74,382.35 446.95,382.33 447.17,382.32 447.38,382.31 447.59,382.29 447.80,382.26 448.01,382.24 448.23,382.20 448.44,382.17 448.65,382.12 448.86,382.07 449.07,382.01 449.29,381.93 449.50,381.85 449.71,381.75 449.92,381.64 450.13,381.51 450.35,381.36 450.56,381.19 450.77,380.99 450.98,380.76 451.20,380.51 451.41,380.21 451.62,379.88 451.83,379.51 452.04,379.09 452.26,378.62 452.47,378.09 452.68,377.50 452.89,376.84 453.10,376.12 453.32,375.31 453.53,374.42 453.74,373.44 453.95,372.37 454.16,371.19 454.38,369.91 454.59,368.52 454.80,367.01 455.01,365.37 455.23,363.62 455.44,361.73 455.65,359.71 455.86,357.55 456.07,355.26 456.29,352.83 456.50,350.26 456.71,347.56 456.92,344.72 457.13,341.76 457.35,338.67 457.56,335.47 457.77,332.15 457.98,328.74 458.19,325.23 458.41,321.65 458.62,318.01 458.83,314.32 459.04,310.59 459.25,306.85 459.47,303.12 459.68,299.41 459.89,295.74 460.10,292.14 460.32,288.62 460.53,285.20 460.74,281.92 460.95,278.78 461.16,275.81 461.38,273.03 461.59,270.46 461.80,268.11 462.01,266.00 462.22,264.16 462.44,262.58 462.65,261.28 462.86,260.28 463.07,259.58 463.28,259.18 463.50,259.08 463.71,259.30 463.92,259.82 464.13,260.65 464.34,261.77 464.56,263.18 464.77,264.86 464.98,266.82 465.19,269.02 465.41,271.46 465.62,274.12 465.83,276.98 466.04,280.01 466.25,283.21 466.47,286.55 466.68,290.01 466.89,293.57 467.10,297.20 467.31,300.89 467.53,304.61 467.74,308.35 467.95,312.08 468.16,315.80 468.37,319.47 468.59,323.09 468.80,326.64 469.01,330.11 469.22,333.49 469.43,336.76 469.65,339.92 469.86,342.96 470.07,345.87 470.28,348.66 470.50,351.31 470.71,353.82 470.92,356.19 471.13,358.43 471.34,360.53 471.56,362.50 471.77,364.33 471.98,366.04 472.19,367.62 472.40,369.09 472.62,370.43 472.83,371.67 473.04,372.81 473.25,373.84 473.46,374.79 473.68,375.64 473.89,376.42 474.10,377.12 474.31,377.74 474.52,378.31 474.74,378.81 474.95,379.26 475.16,379.67 475.37,380.02 475.59,380.34 475.80,380.61 476.01,380.86 476.22,381.07 476.43,381.26 476.65,381.42 476.86,381.56 477.07,381.69 477.28,381.79 477.49,381.88 477.71,381.96 477.92,382.03 478.13,382.09 478.34,382.14 478.55,382.18 478.77,382.22 478.98,382.25 479.19,382.27 479.40,382.29 479.61,382.31 479.83,382.33 480.04,382.34 480.25,382.35 480.46,382.36 480.68,382.37 480.89,382.37 481.10,382.37 481.31,382.38 481.52,382.38 481.74,382.38 481.95,382.38 482.16,382.38 482.37,382.38 482.58,382.38 482.80,382.38 483.01,382.37 483.22,382.37 483.43,382.36 483.64,382.35 483.86,382.34 484.07,382.33 484.28,382.32 484.49,382.30 484.70,382.28 484.92,382.26 485.13,382.23 485.34,382.20 485.55,382.16 485.77,382.12 485.98,382.07 486.19,382.01 486.40,381.93 486.61,381.85 486.83,381.76 487.04,381.65 487.25,381.52 487.46,381.37 487.67,381.21 487.89,381.02 488.10,380.80 488.31,380.55 488.52,380.27 488.73,379.96 488.95,379.60 489.16,379.20 489.37,378.76 489.58,378.26 489.79,377.70 490.01,377.09 490.22,376.41 490.43,375.65 490.64,374.82 490.86,373.92 491.07,372.92 491.28,371.84 491.49,370.66 491.70,369.38 491.92,368.00 492.13,366.52 492.34,364.92 492.55,363.21 492.76,361.39 492.98,359.45 493.19,357.40 493.40,355.23 493.61,352.94 493.82,350.55 494.04,348.04 494.25,345.43 494.46,342.72 494.67,339.91 494.88,337.03 495.10,334.06 495.31,331.04 495.52,327.96 495.73,324.83 495.95,321.69 496.16,318.53 496.37,315.37 496.58,312.23 496.79,309.13 497.01,306.08 497.22,303.11 497.43,300.22 497.64,297.44 497.85,294.79 498.07,292.28 498.28,289.93 498.49,287.75 498.70,285.77 498.91,283.99 499.13,282.42 499.34,281.09 499.55,280.00 499.76,279.15 499.97,278.55 500.19,278.21 500.40,278.14 500.61,278.32 500.82,278.76 501.04,279.46 501.25,280.41 501.46,281.60 501.67,283.02 501.88,284.67 502.10,286.54 502.31,288.60 502.52,290.85 502.73,293.26 502.94,295.83 503.16,298.54 503.37,301.36 503.58,304.29 503.79,307.29 504.00,310.36 504.22,313.48 504.43,316.63 504.64,319.79 504.85,322.95 505.06,326.09 505.28,329.19 505.49,332.25 505.70,335.26 505.91,338.19 506.12,341.05 506.34,343.81 506.55,346.48 506.76,349.05 506.97,351.52 507.19,353.87 507.40,356.11 507.61,358.23 507.82,360.24 508.03,362.13 508.25,363.91 508.46,365.57 508.67,367.13 508.88,368.57 509.09,369.91 509.31,371.14 509.52,372.28 509.73,373.33 509.94,374.29 510.15,375.17 510.37,375.96 510.58,376.69 510.79,377.34 511.00,377.93 511.22,378.46 511.43,378.94 511.64,379.37 511.85,379.75 512.06,380.09 512.28,380.39 512.49,380.65 512.70,380.89 512.91,381.10 513.12,381.28 513.34,381.43 513.55,381.57 513.76,381.69 513.97,381.80 514.18,381.89 514.40,381.96 514.61,382.03 514.82,382.09 515.03,382.14 515.24,382.18 515.46,382.22 515.67,382.25 515.88,382.27 516.09,382.29 516.31,382.31 516.52,382.33 516.73,382.34 516.94,382.35 517.15,382.36 517.37,382.37 517.58,382.37 517.79,382.38 518.00,382.38 518.21,382.38 518.43,382.38 518.64,382.39 518.85,382.39 519.06,382.39 519.27,382.39 519.49,382.39 519.70,382.38 519.91,382.38 520.12,382.38 520.33,382.38 520.55,382.37 520.76,382.37 520.97,382.36 521.18,382.35 521.39,382.34 521.61,382.33 521.82,382.31 522.03,382.30 522.24,382.28 522.46,382.25 522.67,382.23 522.88,382.19 523.09,382.16 523.30,382.11 523.52,382.06 523.73,382.00 523.94,381.94 524.15,381.86 524.36,381.77 524.58,381.66 524.79,381.55 525.00,381.41 525.21,381.26 525.42,381.09 525.64,380.89 525.85,380.68 526.06,380.43 526.27,380.15 526.49,379.85 526.70,379.50 526.91,379.12 527.12,378.70 527.33,378.24 527.55,377.73 527.76,377.17 527.97,376.56 528.18,375.89 528.39,375.16 528.61,374.38 528.82,373.53 529.03,372.61 529.24,371.63 529.45,370.57 529.67,369.45 529.88,368.25 530.09,366.99 530.30,365.65 530.51,364.24 530.73,362.76 530.94,361.22 531.15,359.61 531.36,357.94 531.58,356.21 531.79,354.43 532.00,352.60 532.21,350.74 532.42,348.84 532.64,346.91 532.85,344.97 533.06,343.02 533.27,341.08 533.48,339.14 533.70,337.23 533.91,335.35 534.12,333.52 534.33,331.74 534.54,330.03 534.76,328.39 534.97,326.84 535.18,325.39 535.39,324.05 535.60,322.83 535.82,321.73 536.03,320.77 536.24,319.95 536.45,319.27 536.67,318.75 536.88,318.38 537.09,318.17 537.30,318.13 537.51,318.24 537.73,318.51 537.94,318.94 538.15,319.52 538.36,320.26 538.57,321.14 538.79,322.16 539.00,323.30 539.21,324.58 539.42,325.96 539.63,327.45 539.85,329.03 540.06,330.70 540.27,332.44 540.48,334.25 540.69,336.10 540.91,337.99 541.12,339.91 541.33,341.85 541.54,343.80 541.76,345.75 541.97,347.69 542.18,349.60 542.39,351.49 542.60,353.34 542.82,355.15 543.03,356.91 543.24,358.61 543.45,360.26 543.66,361.84 543.88,363.36 544.09,364.81 544.30,366.19 544.51,367.50 544.72,368.74 544.94,369.91 545.15,371.00 545.36,372.03 545.57,372.98 545.78,373.87 546.00,374.70 546.21,375.46 546.42,376.16 546.63,376.81 546.85,377.40 547.06,377.94 547.27,378.43 547.48,378.88 547.69,379.28 547.91,379.65 548.12,379.97 548.33,380.27 548.54,380.53 548.75,380.77 548.97,380.97 549.18,381.16 549.39,381.32 549.60,381.47 549.81,381.60 550.03,381.71 550.24,381.80 550.45,381.89 550.66,381.96 550.87,382.03 551.09,382.08 551.30,382.13 551.51,382.17 551.72,382.21 551.94,382.24 552.15,382.26 552.36,382.29 552.57,382.30 552.78,382.32 553.00,382.33 553.21,382.35 553.42,382.35 553.63,382.36 553.84,382.37 554.06,382.37 554.27,382.38 554.48,382.38 554.69,382.39 554.90,382.39 555.12,382.39 555.33,382.39 555.54,382.39 555.75,382.40 555.96,382.40 556.18,382.40 556.39,382.40 556.60,382.40 556.81,382.40 557.03,382.40 557.24,382.40 557.45,382.40 557.66,382.40 557.87,382.40 558.09,382.40 558.30,382.40 558.51,382.40 558.72,382.40 558.93,382.40 559.15,382.40 559.36,382.40 559.57,382.40 559.78,382.40 559.99,382.40 560.21,382.40 560.42,382.40 560.63,382.40 560.84,382.40 561.05,382.40 561.27,382.40 561.48,382.40 561.69,382.40 561.90,382.40 562.12,382.40 562.33,382.40 562.54,382.40 562.75,382.40 562.96,382.40 563.18,382.40 563.39,382.40 563.60,382.40 563.81,382.40 564.02,382.40 564.24,382.40 564.45,382.40 564.66,382.40 564.87,382.40 565.08,382.40 565.30,382.40 565.51,382.40 565.72,382.40 565.93,382.40 566.14,382.40 566.36,382.40 566.57,382.40 566.78,382.40 566.99,382.40 567.21,382.40 567.42,382.40 567.63,382.40 567.84,382.40 568.05,382.40 568.27,382.40 568.48,382.40 568.69,382.40 568.90,382.40 569.11,382.40 569.33,382.40 569.54,382.40 569.75,382.40 569.96,382.40 570.17,382.40 570.39,382.40 570.60,382.40 570.81,382.40 571.02,382.40 571.23,382.40 571.45,382.40 571.66,382.40 571.87,382.40 572.08,382.40 572.30,382.40 572.51,382.40 572.72,382.40 572.93,382.40 573.14,382.40 573.36,382.40 573.57,382.40 573.78,382.40 573.99,382.40 574.20,382.40 574.42,382.40 574.63,382.40 574.84,382.40 575.05,382.40 575.26,382.40 575.48,382.40 575.69,382.40 575.90,382.40 576.11,382.40 576.32,382.40 576.54,382.40 576.75,382.40 576.96,382.40 577.17,382.40 577.38,382.40 577.60,382.40 577.81,382.40 578.02,382.40 578.23,382.40 578.45,382.40 578.66,382.40 578.87,382.40 579.08,382.40 579.29,382.40 579.51,382.40 579.72,382.40 579.93,382.40 580.14,382.40 580.35,382.40 580.57,382.40 580.78,382.40 580.99,382.40 581.20,382.40 581.41,382.40 581.63,382.40 581.84,382.40 582.05,382.40 582.26,382.40 582.48,382.40 582.69,382.40 582.90,382.40 583.11,382.40 583.32,382.40 583.54,382.40 583.75,382.40 583.96,382.40 584.17,382.40 584.38,382.40 584.60,382.40 584.81,382.40 585.02,382.40 585.23,382.40 585.44,382.40 585.66,382.40 585.87,382.40 586.08,382.40 586.29,382.40 586.50,382.40 586.72,382.40 586.93,382.40 587.14,382.40 587.35,382.40 587.57,382.40 587.78,382.40 587.99,382.40 588.20,382.40 588.41,382.40 588.63,382.40 588.84,382.40 589.05,382.40 589.26,382.40 589.47,382.40 589.69,382.40 589.90,382.40 590.11,382.40 590.32,382.40 590.53,382.40 590.75,382.40 590.96,382.40 591.17,382.40 591.38,382.40 591.59,382.40 591.81,382.40 592.02,382.40 592.23,382.40 592.44,382.40 592.66,382.40 592.87,382.40 593.08,382.40 593.29,382.40 593.50,382.40 593.72,382.40 593.93,382.40 594.14,382.40 594.35,382.40 594.56,382.40 594.78,382.40 594.99,382.40 595.20,382.40" stroke-width="1.3" stroke-linejoin="round"/>
</g>
<g font-family="Liberation Sans, Arial, sans-serif" font-weight="bold" fill="#1a1a1a" stroke="#1a1a1a" stroke-width="0.25">
<g font-size="9.0" text-anchor="middle">
<text x="340.70" y="394.60">40</text>
<text x="383.12" y="394.60">50</text>
<text x="425.53" y="394.60">60</text>
<text x="467.95" y="394.60">70</text>
<text x="510.37" y="394.60">80</text>
<text x="552.78" y="394.60">90</text>
<text x="595.20" y="394.60">100</text>
</g>
<g font-size="8.7" text-anchor="end">
<text x="335.40" y="384.80">0.0</text>
<text x="335.40" y="342.92">0.2</text>
<text x="335.40" y="301.05">0.4</text>
<text x="335.40" y="259.17">0.6</text>
<text x="335.40" y="217.30">0.8</text>
</g>
<text x="305.9" y="217.9" font-size="12.4">(d)</text>
<g transform="translate(316.0,343.8) rotate(-90)">
<text x="0" y="0" font-size="9.7">absorption,</text>
<text x="55.4" y="0" font-size="13.0" font-family="Liberation Serif, serif" font-weight="normal" stroke-width="0.3">α</text>
<text x="64.5" y="-0.4" font-size="10.15">(%)</text>
</g>
<text x="415.5" y="404.5" font-size="9.4">photon energy,</text>
<text x="484.0" y="404.5" font-size="9.2" font-family="Liberation Serif, serif" font-weight="normal" stroke-width="0.1" fill="#222">ħω</text>
<text x="496.5" y="404.5" font-size="9.6">(meV)</text>
<text y="341.4" font-size="11.3"><tspan x="373.00" font-weight="normal" stroke-width="0.15">Δ</tspan><tspan x="381.05 389.60 398.20">n=0</tspan></text>
<text y="281.5" font-size="11.3"><tspan x="408.50" font-weight="normal" stroke-width="0.15">Δ</tspan><tspan x="416.55 425.10 433.70">n=1</tspan></text>
<text y="255.3" font-size="11.3"><tspan x="445.00" font-weight="normal" stroke-width="0.15">Δ</tspan><tspan x="453.05 461.60 470.20">n=2</tspan></text>
<text y="274.5" font-size="11.3"><tspan x="481.50" font-weight="normal" stroke-width="0.15">Δ</tspan><tspan x="489.55 498.10 506.70">n=3</tspan></text>
<text y="313.5" font-size="11.3"><tspan x="519.50" font-weight="normal" stroke-width="0.15">Δ</tspan><tspan x="527.55 536.10 544.70">n=4</tspan></text>
<text x="523.4" y="234.4" font-size="11.5">B</text>
<text x="530.40" y="237.90" font-size="10.8" textLength="8.2" lengthAdjust="spacingAndGlyphs" font-weight="normal" stroke-width="0.1">⊥</text>
<text x="540.90" y="235.90" font-family="Liberation Serif, serif" font-weight="normal" font-size="11.8" stroke-width="0.22">=</text>
<text x="549.90" y="234.4" font-family="Liberation Serif, serif" font-weight="normal" font-size="11.8" stroke-width="0.22">5 T</text>
<text x="523.4" y="250.9" font-size="11.5">B</text>
<text x="531.30" y="254.20" font-size="10.5" font-weight="normal" stroke-width="0.1">||</text>
<text x="538.90" y="252.40" font-family="Liberation Serif, serif" font-weight="normal" font-size="11.8" stroke-width="0.22">=</text>
<text x="548.10" y="250.9" font-family="Liberation Serif, serif" font-weight="normal" font-size="11.8" stroke-width="0.22" letter-spacing="-0.3">15 T</text>
</g>
</svg>
</body></html>
